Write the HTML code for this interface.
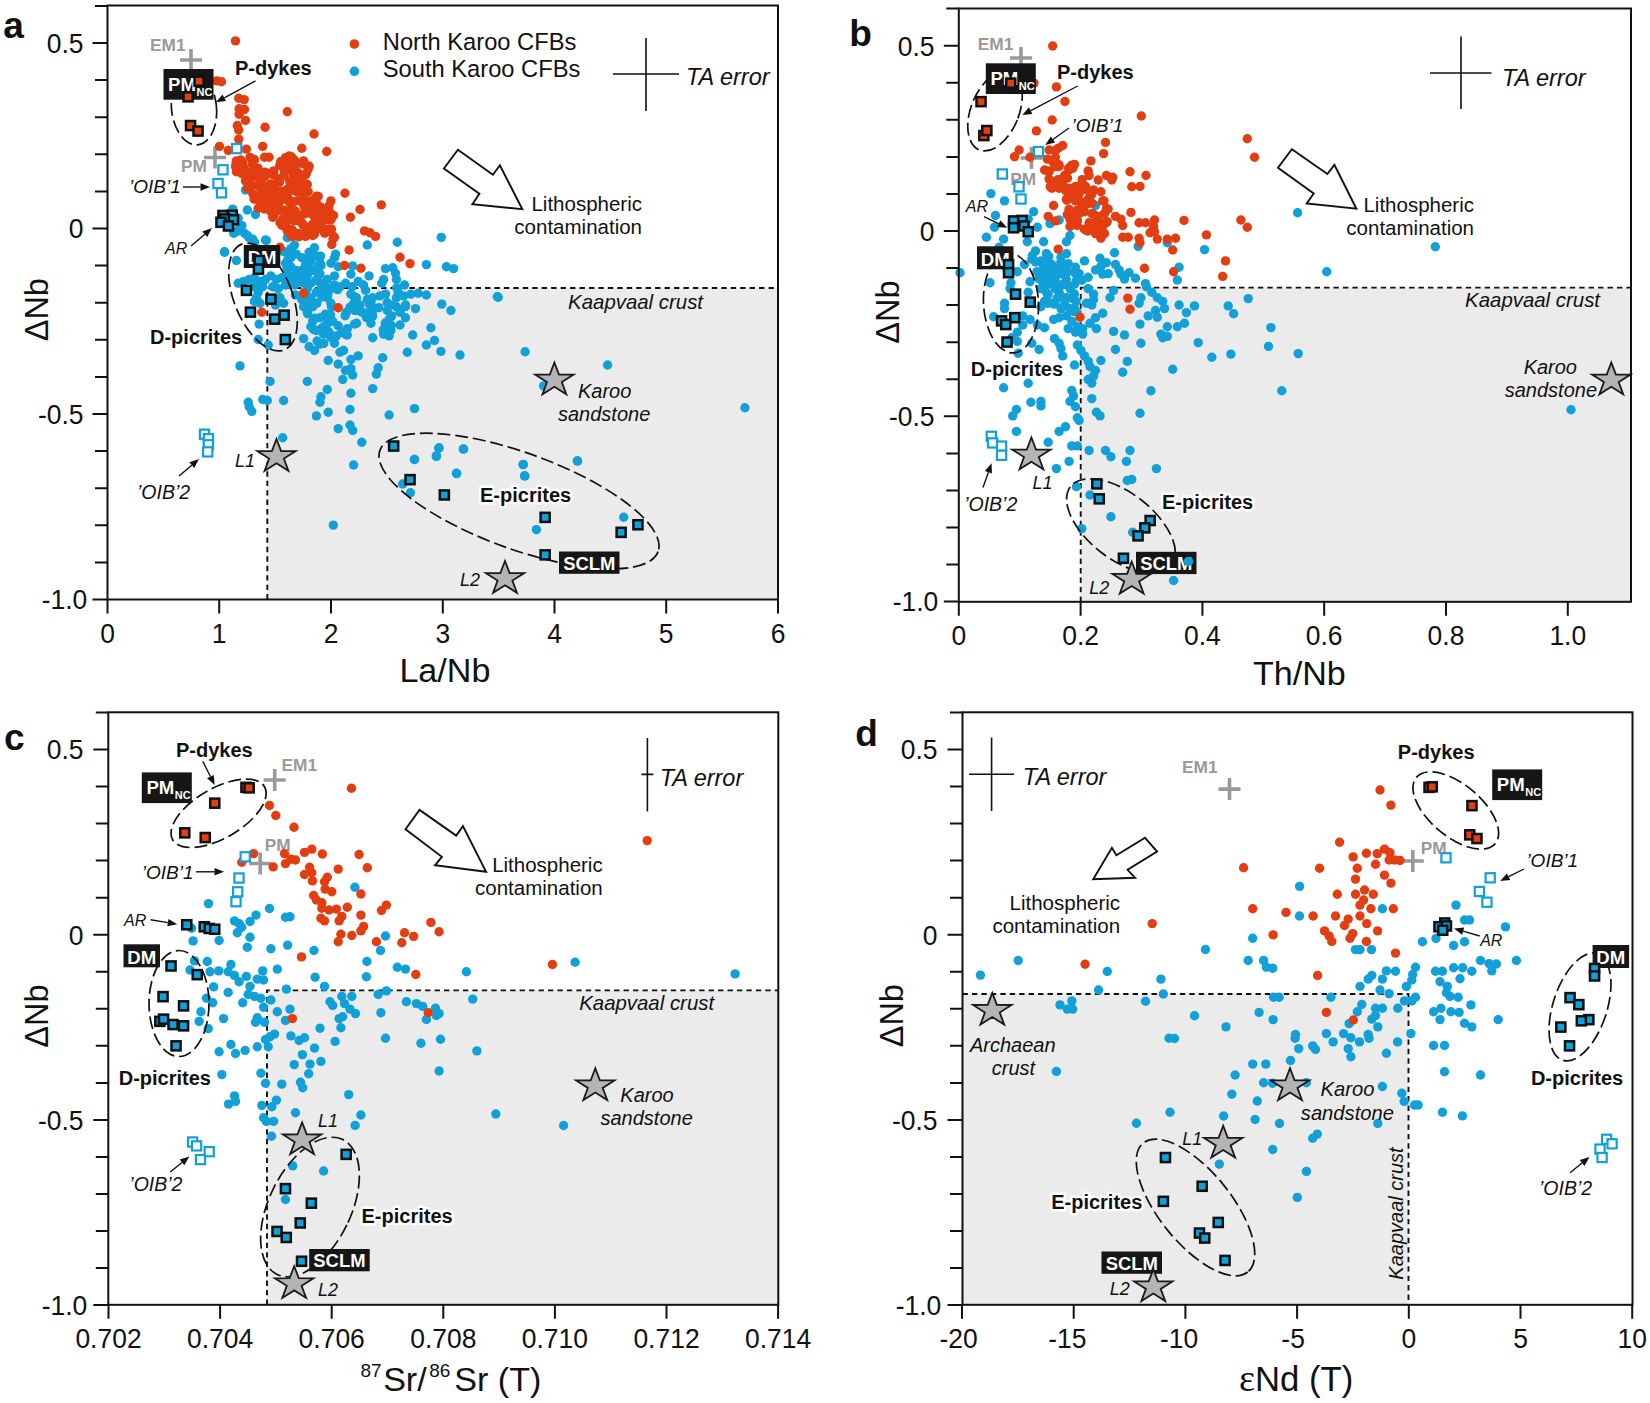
<!DOCTYPE html>
<html><head><meta charset="utf-8"><title>Figure</title>
<style>html,body{margin:0;padding:0;background:#fff}svg{display:block}text{font-family:"Liberation Sans",sans-serif}</style>
</head><body>
<svg width="1650" height="1403" viewBox="0 0 1650 1403">
<rect width="1650" height="1403" fill="#fff"/>
<rect x="267.3" y="288" width="510.7" height="311.5" fill="#ebebeb"/>
<path d="M267.3 599.5V288H778.0" stroke="#111" stroke-width="1.9" stroke-dasharray="5.4 4.05" fill="none"/>
<text x="150.0" y="51.0" font-size="17.3" text-anchor="start" font-weight="bold" font-style="normal" fill="#999" >EM1</text>
<path d="M180.0 60.0H202.0M191.0 49.0V71.0" stroke="#999" stroke-width="3.6" fill="none"/>
<text x="181.0" y="172.0" font-size="17.3" text-anchor="start" font-weight="bold" font-style="normal" fill="#999" >PM</text>
<path d="M204.0 157.5H226.0M215.0 146.5V168.5" stroke="#999" stroke-width="3.6" fill="none"/>
<g fill="#11a0d7">
<circle cx="283.9" cy="251.7" r="4.7"/>
<circle cx="293.1" cy="254.1" r="4.7"/>
<circle cx="308.7" cy="258.3" r="4.7"/>
<circle cx="320.5" cy="256.1" r="4.7"/>
<circle cx="286.9" cy="267.9" r="4.7"/>
<circle cx="287.3" cy="260.9" r="4.7"/>
<circle cx="308.3" cy="263.7" r="4.7"/>
<circle cx="320.1" cy="262.9" r="4.7"/>
<circle cx="321.1" cy="265.5" r="4.7"/>
<circle cx="294.3" cy="275.2" r="4.7"/>
<circle cx="305.1" cy="272.7" r="4.7"/>
<circle cx="317.2" cy="271.0" r="4.7"/>
<circle cx="290.0" cy="284.2" r="4.7"/>
<circle cx="302.4" cy="282.6" r="4.7"/>
<circle cx="319.9" cy="282.9" r="4.7"/>
<circle cx="326.6" cy="287.1" r="4.7"/>
<circle cx="352.3" cy="286.6" r="4.7"/>
<circle cx="295.4" cy="294.9" r="4.7"/>
<circle cx="306.6" cy="296.2" r="4.7"/>
<circle cx="321.4" cy="290.4" r="4.7"/>
<circle cx="327.7" cy="295.1" r="4.7"/>
<circle cx="337.6" cy="289.6" r="4.7"/>
<circle cx="354.0" cy="296.5" r="4.7"/>
<circle cx="365.6" cy="290.2" r="4.7"/>
<circle cx="396.7" cy="287.8" r="4.7"/>
<circle cx="309.1" cy="303.9" r="4.7"/>
<circle cx="316.9" cy="303.1" r="4.7"/>
<circle cx="321.9" cy="297.0" r="4.7"/>
<circle cx="331.5" cy="306.7" r="4.7"/>
<circle cx="350.0" cy="307.2" r="4.7"/>
<circle cx="353.6" cy="303.7" r="4.7"/>
<circle cx="369.6" cy="304.7" r="4.7"/>
<circle cx="378.8" cy="307.6" r="4.7"/>
<circle cx="387.1" cy="302.7" r="4.7"/>
<circle cx="405.4" cy="306.6" r="4.7"/>
<circle cx="307.7" cy="313.7" r="4.7"/>
<circle cx="324.7" cy="315.8" r="4.7"/>
<circle cx="330.4" cy="314.9" r="4.7"/>
<circle cx="346.3" cy="312.5" r="4.7"/>
<circle cx="354.7" cy="310.4" r="4.7"/>
<circle cx="365.2" cy="312.9" r="4.7"/>
<circle cx="370.7" cy="313.2" r="4.7"/>
<circle cx="391.7" cy="315.9" r="4.7"/>
<circle cx="399.8" cy="310.5" r="4.7"/>
<circle cx="314.6" cy="318.2" r="4.7"/>
<circle cx="328.0" cy="321.2" r="4.7"/>
<circle cx="338.1" cy="325.8" r="4.7"/>
<circle cx="345.1" cy="315.8" r="4.7"/>
<circle cx="356.6" cy="323.2" r="4.7"/>
<circle cx="366.5" cy="317.6" r="4.7"/>
<circle cx="385.3" cy="323.0" r="4.7"/>
<circle cx="391.2" cy="325.5" r="4.7"/>
<circle cx="313.5" cy="329.5" r="4.7"/>
<circle cx="321.2" cy="328.7" r="4.7"/>
<circle cx="327.3" cy="330.7" r="4.7"/>
<circle cx="346.0" cy="334.6" r="4.7"/>
<circle cx="383.2" cy="329.8" r="4.7"/>
<circle cx="317.1" cy="341.0" r="4.7"/>
<circle cx="323.7" cy="343.5" r="4.7"/>
<circle cx="331.5" cy="336.3" r="4.7"/>
<circle cx="347.3" cy="335.0" r="4.7"/>
<circle cx="325.5" cy="210.0" r="4.7"/>
<circle cx="245.5" cy="190.0" r="4.7"/>
<circle cx="232.7" cy="209.1" r="4.7"/>
<circle cx="247.3" cy="210.0" r="4.7"/>
<circle cx="255.5" cy="214.5" r="4.7"/>
<circle cx="238.2" cy="218.2" r="4.7"/>
<circle cx="241.8" cy="225.5" r="4.7"/>
<circle cx="236.4" cy="231.8" r="4.7"/>
<circle cx="247.3" cy="235.5" r="4.7"/>
<circle cx="252.7" cy="239.1" r="4.7"/>
<circle cx="265.5" cy="240.0" r="4.7"/>
<circle cx="224.5" cy="251.8" r="4.7"/>
<circle cx="233.6" cy="233.2" r="4.7"/>
<circle cx="239.1" cy="228.6" r="4.7"/>
<circle cx="244.5" cy="233.2" r="4.7"/>
<circle cx="249.1" cy="237.7" r="4.7"/>
<circle cx="254.5" cy="242.3" r="4.7"/>
<circle cx="266.4" cy="240.5" r="4.7"/>
<circle cx="224.5" cy="252.3" r="4.7"/>
<circle cx="236.4" cy="260.5" r="4.7"/>
<circle cx="287.3" cy="237.7" r="4.7"/>
<circle cx="294.5" cy="245.0" r="4.7"/>
<circle cx="290.9" cy="248.6" r="4.7"/>
<circle cx="367.3" cy="245.0" r="4.7"/>
<circle cx="397.3" cy="242.3" r="4.7"/>
<circle cx="441.3" cy="237.4" r="4.7"/>
<circle cx="426.4" cy="264.6" r="4.7"/>
<circle cx="446.4" cy="266.8" r="4.7"/>
<circle cx="453.6" cy="268.6" r="4.7"/>
<circle cx="285.5" cy="252.3" r="4.7"/>
<circle cx="290.9" cy="257.7" r="4.7"/>
<circle cx="296.4" cy="254.1" r="4.7"/>
<circle cx="301.8" cy="257.7" r="4.7"/>
<circle cx="309.1" cy="252.3" r="4.7"/>
<circle cx="314.5" cy="247.7" r="4.7"/>
<circle cx="316.4" cy="255.9" r="4.7"/>
<circle cx="310.9" cy="261.4" r="4.7"/>
<circle cx="305.5" cy="265.0" r="4.7"/>
<circle cx="301.8" cy="270.5" r="4.7"/>
<circle cx="296.4" cy="270.5" r="4.7"/>
<circle cx="290.9" cy="266.8" r="4.7"/>
<circle cx="285.5" cy="263.2" r="4.7"/>
<circle cx="287.3" cy="274.1" r="4.7"/>
<circle cx="281.8" cy="277.7" r="4.7"/>
<circle cx="276.4" cy="279.5" r="4.7"/>
<circle cx="270.9" cy="275.9" r="4.7"/>
<circle cx="265.5" cy="279.5" r="4.7"/>
<circle cx="260.0" cy="281.4" r="4.7"/>
<circle cx="254.5" cy="277.7" r="4.7"/>
<circle cx="249.1" cy="279.5" r="4.7"/>
<circle cx="243.6" cy="281.4" r="4.7"/>
<circle cx="238.2" cy="283.2" r="4.7"/>
<circle cx="254.5" cy="286.8" r="4.7"/>
<circle cx="258.2" cy="292.3" r="4.7"/>
<circle cx="256.4" cy="297.7" r="4.7"/>
<circle cx="254.5" cy="301.4" r="4.7"/>
<circle cx="260.0" cy="303.2" r="4.7"/>
<circle cx="262.7" cy="286.8" r="4.7"/>
<circle cx="272.7" cy="286.8" r="4.7"/>
<circle cx="278.2" cy="288.6" r="4.7"/>
<circle cx="280.0" cy="297.7" r="4.7"/>
<circle cx="283.6" cy="303.2" r="4.7"/>
<circle cx="275.5" cy="305.0" r="4.7"/>
<circle cx="285.5" cy="285.0" r="4.7"/>
<circle cx="290.9" cy="279.5" r="4.7"/>
<circle cx="294.5" cy="285.0" r="4.7"/>
<circle cx="298.2" cy="277.7" r="4.7"/>
<circle cx="301.8" cy="281.4" r="4.7"/>
<circle cx="307.3" cy="275.9" r="4.7"/>
<circle cx="312.7" cy="270.5" r="4.7"/>
<circle cx="318.2" cy="266.8" r="4.7"/>
<circle cx="320.0" cy="274.1" r="4.7"/>
<circle cx="316.4" cy="279.5" r="4.7"/>
<circle cx="310.9" cy="283.2" r="4.7"/>
<circle cx="307.3" cy="288.6" r="4.7"/>
<circle cx="301.8" cy="299.5" r="4.7"/>
<circle cx="303.6" cy="306.8" r="4.7"/>
<circle cx="307.3" cy="312.3" r="4.7"/>
<circle cx="312.7" cy="306.8" r="4.7"/>
<circle cx="310.9" cy="297.7" r="4.7"/>
<circle cx="316.4" cy="292.3" r="4.7"/>
<circle cx="321.8" cy="286.8" r="4.7"/>
<circle cx="327.3" cy="279.5" r="4.7"/>
<circle cx="334.5" cy="275.9" r="4.7"/>
<circle cx="334.5" cy="257.7" r="4.7"/>
<circle cx="335.5" cy="254.1" r="4.7"/>
<circle cx="330.9" cy="263.2" r="4.7"/>
<circle cx="338.2" cy="266.8" r="4.7"/>
<circle cx="352.7" cy="265.9" r="4.7"/>
<circle cx="350.9" cy="274.1" r="4.7"/>
<circle cx="345.5" cy="283.2" r="4.7"/>
<circle cx="340.0" cy="286.8" r="4.7"/>
<circle cx="334.5" cy="285.0" r="4.7"/>
<circle cx="329.1" cy="290.5" r="4.7"/>
<circle cx="327.3" cy="297.7" r="4.7"/>
<circle cx="330.9" cy="303.2" r="4.7"/>
<circle cx="325.5" cy="314.1" r="4.7"/>
<circle cx="320.0" cy="317.7" r="4.7"/>
<circle cx="312.7" cy="321.4" r="4.7"/>
<circle cx="310.9" cy="326.8" r="4.7"/>
<circle cx="316.4" cy="330.5" r="4.7"/>
<circle cx="323.6" cy="326.8" r="4.7"/>
<circle cx="327.3" cy="323.2" r="4.7"/>
<circle cx="332.7" cy="321.4" r="4.7"/>
<circle cx="329.1" cy="332.3" r="4.7"/>
<circle cx="323.6" cy="334.1" r="4.7"/>
<circle cx="330.9" cy="337.7" r="4.7"/>
<circle cx="334.5" cy="343.2" r="4.7"/>
<circle cx="340.0" cy="352.3" r="4.7"/>
<circle cx="343.6" cy="350.5" r="4.7"/>
<circle cx="336.4" cy="335.9" r="4.7"/>
<circle cx="341.8" cy="332.3" r="4.7"/>
<circle cx="347.3" cy="328.6" r="4.7"/>
<circle cx="354.5" cy="324.1" r="4.7"/>
<circle cx="350.9" cy="294.1" r="4.7"/>
<circle cx="356.4" cy="297.7" r="4.7"/>
<circle cx="360.0" cy="305.0" r="4.7"/>
<circle cx="356.4" cy="310.5" r="4.7"/>
<circle cx="361.8" cy="312.3" r="4.7"/>
<circle cx="367.3" cy="314.1" r="4.7"/>
<circle cx="372.7" cy="315.9" r="4.7"/>
<circle cx="370.9" cy="323.2" r="4.7"/>
<circle cx="374.5" cy="308.6" r="4.7"/>
<circle cx="370.9" cy="303.2" r="4.7"/>
<circle cx="367.3" cy="299.5" r="4.7"/>
<circle cx="372.7" cy="297.7" r="4.7"/>
<circle cx="380.0" cy="295.9" r="4.7"/>
<circle cx="385.5" cy="294.1" r="4.7"/>
<circle cx="363.6" cy="285.0" r="4.7"/>
<circle cx="358.2" cy="281.4" r="4.7"/>
<circle cx="369.1" cy="275.9" r="4.7"/>
<circle cx="381.8" cy="283.2" r="4.7"/>
<circle cx="383.6" cy="279.5" r="4.7"/>
<circle cx="385.5" cy="268.6" r="4.7"/>
<circle cx="392.7" cy="267.7" r="4.7"/>
<circle cx="395.5" cy="273.2" r="4.7"/>
<circle cx="396.4" cy="279.5" r="4.7"/>
<circle cx="404.5" cy="285.0" r="4.7"/>
<circle cx="398.2" cy="292.3" r="4.7"/>
<circle cx="396.4" cy="297.7" r="4.7"/>
<circle cx="403.6" cy="295.9" r="4.7"/>
<circle cx="410.9" cy="294.1" r="4.7"/>
<circle cx="418.2" cy="293.2" r="4.7"/>
<circle cx="426.4" cy="295.0" r="4.7"/>
<circle cx="405.5" cy="305.0" r="4.7"/>
<circle cx="396.4" cy="306.8" r="4.7"/>
<circle cx="390.9" cy="305.0" r="4.7"/>
<circle cx="387.3" cy="310.5" r="4.7"/>
<circle cx="400.0" cy="312.3" r="4.7"/>
<circle cx="405.5" cy="317.7" r="4.7"/>
<circle cx="389.1" cy="319.5" r="4.7"/>
<circle cx="385.5" cy="325.0" r="4.7"/>
<circle cx="400.0" cy="325.0" r="4.7"/>
<circle cx="390.9" cy="330.5" r="4.7"/>
<circle cx="383.6" cy="334.1" r="4.7"/>
<circle cx="389.1" cy="335.9" r="4.7"/>
<circle cx="372.7" cy="337.7" r="4.7"/>
<circle cx="415.5" cy="308.6" r="4.7"/>
<circle cx="441.8" cy="304.1" r="4.7"/>
<circle cx="450.9" cy="310.5" r="4.7"/>
<circle cx="497.3" cy="296.8" r="4.7"/>
<circle cx="430.9" cy="327.7" r="4.7"/>
<circle cx="412.7" cy="335.0" r="4.7"/>
<circle cx="434.5" cy="340.5" r="4.7"/>
<circle cx="426.4" cy="345.0" r="4.7"/>
<circle cx="407.3" cy="352.3" r="4.7"/>
<circle cx="440.9" cy="351.4" r="4.7"/>
<circle cx="460.0" cy="355.0" r="4.7"/>
<circle cx="382.7" cy="357.7" r="4.7"/>
<circle cx="358.2" cy="355.9" r="4.7"/>
<circle cx="350.9" cy="359.5" r="4.7"/>
<circle cx="328.2" cy="360.5" r="4.7"/>
<circle cx="338.2" cy="364.1" r="4.7"/>
<circle cx="350.9" cy="368.6" r="4.7"/>
<circle cx="345.5" cy="370.5" r="4.7"/>
<circle cx="352.7" cy="375.0" r="4.7"/>
<circle cx="342.7" cy="379.5" r="4.7"/>
<circle cx="378.2" cy="367.7" r="4.7"/>
<circle cx="376.4" cy="374.1" r="4.7"/>
<circle cx="372.7" cy="388.6" r="4.7"/>
<circle cx="307.3" cy="381.4" r="4.7"/>
<circle cx="327.3" cy="389.5" r="4.7"/>
<circle cx="350.9" cy="393.2" r="4.7"/>
<circle cx="320.9" cy="396.8" r="4.7"/>
<circle cx="320.0" cy="402.3" r="4.7"/>
<circle cx="350.0" cy="409.5" r="4.7"/>
<circle cx="328.2" cy="412.3" r="4.7"/>
<circle cx="316.4" cy="415.9" r="4.7"/>
<circle cx="389.1" cy="415.0" r="4.7"/>
<circle cx="414.5" cy="408.6" r="4.7"/>
<circle cx="338.2" cy="428.6" r="4.7"/>
<circle cx="350.0" cy="425.0" r="4.7"/>
<circle cx="352.7" cy="430.5" r="4.7"/>
<circle cx="361.8" cy="442.3" r="4.7"/>
<circle cx="353.6" cy="465.0" r="4.7"/>
<circle cx="414.5" cy="459.5" r="4.7"/>
<circle cx="436.4" cy="455.9" r="4.7"/>
<circle cx="439.1" cy="447.7" r="4.7"/>
<circle cx="463.6" cy="449.0" r="4.7"/>
<circle cx="456.4" cy="473.2" r="4.7"/>
<circle cx="259.1" cy="324.1" r="4.7"/>
<circle cx="258.2" cy="339.5" r="4.7"/>
<circle cx="268.2" cy="345.0" r="4.7"/>
<circle cx="303.6" cy="338.6" r="4.7"/>
<circle cx="309.1" cy="346.8" r="4.7"/>
<circle cx="314.5" cy="350.5" r="4.7"/>
<circle cx="320.0" cy="344.1" r="4.7"/>
<circle cx="240.0" cy="365.9" r="4.7"/>
<circle cx="270.0" cy="381.4" r="4.7"/>
<circle cx="262.7" cy="399.5" r="4.7"/>
<circle cx="267.3" cy="400.5" r="4.7"/>
<circle cx="283.6" cy="400.5" r="4.7"/>
<circle cx="248.2" cy="402.3" r="4.7"/>
<circle cx="249.1" cy="406.8" r="4.7"/>
<circle cx="251.8" cy="411.4" r="4.7"/>
<circle cx="282.7" cy="437.7" r="4.7"/>
<circle cx="498.2" cy="297.2" r="4.7"/>
<circle cx="525.1" cy="351.7" r="4.7"/>
<circle cx="607.6" cy="365.0" r="4.7"/>
<circle cx="543.6" cy="385.9" r="4.7"/>
<circle cx="744.9" cy="407.7" r="4.7"/>
<circle cx="523.1" cy="464.6" r="4.7"/>
<circle cx="577.6" cy="461.0" r="4.7"/>
<circle cx="524.5" cy="475.9" r="4.7"/>
<circle cx="414.5" cy="459.5" r="4.7"/>
<circle cx="456.7" cy="473.6" r="4.7"/>
<circle cx="402.7" cy="484.0" r="4.7"/>
<circle cx="410.4" cy="492.7" r="4.7"/>
<circle cx="523.3" cy="464.5" r="4.7"/>
<circle cx="524.9" cy="476.0" r="4.7"/>
<circle cx="577.3" cy="460.9" r="4.7"/>
<circle cx="333.3" cy="525.1" r="4.7"/>
<circle cx="536.4" cy="529.6" r="4.7"/>
<circle cx="438.7" cy="448.2" r="4.7"/>
<circle cx="436.4" cy="456.4" r="4.7"/>
<circle cx="463.3" cy="449.1" r="4.7"/>
<circle cx="623.7" cy="517.3" r="4.7"/>
</g>
<g fill="#e23e12">
<circle cx="235.5" cy="40.9" r="4.7"/>
<circle cx="216.7" cy="80.9" r="4.7"/>
<circle cx="221.5" cy="81.8" r="4.7"/>
<circle cx="238.7" cy="98.2" r="4.7"/>
<circle cx="244.2" cy="99.6" r="4.7"/>
<circle cx="239.1" cy="108.7" r="4.7"/>
<circle cx="244.5" cy="109.5" r="4.7"/>
<circle cx="239.1" cy="114.2" r="4.7"/>
<circle cx="245.5" cy="120.4" r="4.7"/>
<circle cx="237.3" cy="125.5" r="4.7"/>
<circle cx="238.7" cy="130.0" r="4.7"/>
<circle cx="287.3" cy="111.8" r="4.7"/>
<circle cx="265.1" cy="127.3" r="4.7"/>
<circle cx="314.0" cy="134.0" r="4.7"/>
<circle cx="238.7" cy="139.1" r="4.7"/>
<circle cx="262.7" cy="146.4" r="4.7"/>
<circle cx="301.8" cy="148.2" r="4.7"/>
<circle cx="326.7" cy="151.5" r="4.7"/>
<circle cx="219.5" cy="146.4" r="4.7"/>
<circle cx="228.2" cy="150.4" r="4.7"/>
<circle cx="246.4" cy="149.1" r="4.7"/>
<circle cx="289.1" cy="156.0" r="4.7"/>
<circle cx="264.5" cy="157.3" r="4.7"/>
<circle cx="269.1" cy="157.3" r="4.7"/>
<circle cx="236.4" cy="160.9" r="4.7"/>
<circle cx="240.9" cy="160.0" r="4.7"/>
<circle cx="254.5" cy="160.0" r="4.7"/>
<circle cx="285.5" cy="160.9" r="4.7"/>
<circle cx="294.5" cy="160.0" r="4.7"/>
<circle cx="303.6" cy="160.9" r="4.7"/>
<circle cx="309.1" cy="166.4" r="4.7"/>
<circle cx="306.4" cy="173.6" r="4.7"/>
<circle cx="301.8" cy="177.3" r="4.7"/>
<circle cx="307.3" cy="184.5" r="4.7"/>
<circle cx="308.2" cy="191.8" r="4.7"/>
<circle cx="318.2" cy="196.4" r="4.7"/>
<circle cx="316.4" cy="202.7" r="4.7"/>
<circle cx="330.9" cy="200.9" r="4.7"/>
<circle cx="333.6" cy="215.5" r="4.7"/>
<circle cx="329.1" cy="220.0" r="4.7"/>
<circle cx="334.5" cy="237.3" r="4.7"/>
<circle cx="331.8" cy="244.5" r="4.7"/>
<circle cx="325.5" cy="230.0" r="4.7"/>
<circle cx="312.7" cy="235.5" r="4.7"/>
<circle cx="305.5" cy="236.4" r="4.7"/>
<circle cx="292.7" cy="236.4" r="4.7"/>
<circle cx="287.3" cy="228.2" r="4.7"/>
<circle cx="280.0" cy="222.7" r="4.7"/>
<circle cx="272.7" cy="217.3" r="4.7"/>
<circle cx="258.2" cy="208.2" r="4.7"/>
<circle cx="260.0" cy="202.7" r="4.7"/>
<circle cx="252.7" cy="193.6" r="4.7"/>
<circle cx="247.3" cy="188.2" r="4.7"/>
<circle cx="245.5" cy="180.9" r="4.7"/>
<circle cx="241.8" cy="173.6" r="4.7"/>
<circle cx="236.4" cy="171.8" r="4.7"/>
<circle cx="235.5" cy="166.4" r="4.7"/>
<circle cx="344.9" cy="193.3" r="4.7"/>
<circle cx="381.3" cy="204.9" r="4.7"/>
<circle cx="360.0" cy="209.5" r="4.7"/>
<circle cx="350.4" cy="217.3" r="4.7"/>
<circle cx="364.5" cy="230.9" r="4.7"/>
<circle cx="370.0" cy="232.7" r="4.7"/>
<circle cx="375.5" cy="236.4" r="4.7"/>
<circle cx="349.1" cy="250.0" r="4.7"/>
<circle cx="400.0" cy="257.3" r="4.7"/>
<circle cx="410.0" cy="263.6" r="4.7"/>
<circle cx="344.5" cy="265.5" r="4.7"/>
<circle cx="360.9" cy="268.2" r="4.7"/>
<circle cx="280.0" cy="247.3" r="4.7"/>
<circle cx="250.0" cy="157.4" r="4.7"/>
<circle cx="285.6" cy="157.6" r="4.7"/>
<circle cx="291.4" cy="156.8" r="4.7"/>
<circle cx="236.2" cy="162.7" r="4.7"/>
<circle cx="242.9" cy="163.5" r="4.7"/>
<circle cx="251.8" cy="158.7" r="4.7"/>
<circle cx="253.9" cy="159.4" r="4.7"/>
<circle cx="280.8" cy="161.5" r="4.7"/>
<circle cx="288.5" cy="163.3" r="4.7"/>
<circle cx="295.5" cy="163.5" r="4.7"/>
<circle cx="302.9" cy="163.8" r="4.7"/>
<circle cx="242.1" cy="169.4" r="4.7"/>
<circle cx="244.1" cy="168.3" r="4.7"/>
<circle cx="252.3" cy="164.5" r="4.7"/>
<circle cx="258.0" cy="168.1" r="4.7"/>
<circle cx="279.7" cy="165.6" r="4.7"/>
<circle cx="287.0" cy="169.3" r="4.7"/>
<circle cx="291.3" cy="169.4" r="4.7"/>
<circle cx="296.5" cy="164.1" r="4.7"/>
<circle cx="304.6" cy="163.8" r="4.7"/>
<circle cx="308.7" cy="166.0" r="4.7"/>
<circle cx="239.1" cy="171.4" r="4.7"/>
<circle cx="243.0" cy="172.2" r="4.7"/>
<circle cx="250.5" cy="172.6" r="4.7"/>
<circle cx="256.4" cy="172.8" r="4.7"/>
<circle cx="265.0" cy="172.1" r="4.7"/>
<circle cx="268.4" cy="173.4" r="4.7"/>
<circle cx="273.7" cy="170.9" r="4.7"/>
<circle cx="284.4" cy="172.2" r="4.7"/>
<circle cx="288.3" cy="169.3" r="4.7"/>
<circle cx="293.9" cy="172.5" r="4.7"/>
<circle cx="298.1" cy="172.7" r="4.7"/>
<circle cx="308.0" cy="169.5" r="4.7"/>
<circle cx="247.0" cy="176.6" r="4.7"/>
<circle cx="252.1" cy="176.5" r="4.7"/>
<circle cx="258.5" cy="178.2" r="4.7"/>
<circle cx="264.5" cy="176.9" r="4.7"/>
<circle cx="273.6" cy="174.9" r="4.7"/>
<circle cx="278.8" cy="179.0" r="4.7"/>
<circle cx="283.7" cy="176.0" r="4.7"/>
<circle cx="293.0" cy="176.1" r="4.7"/>
<circle cx="295.8" cy="177.3" r="4.7"/>
<circle cx="305.2" cy="175.3" r="4.7"/>
<circle cx="249.8" cy="181.4" r="4.7"/>
<circle cx="257.8" cy="185.1" r="4.7"/>
<circle cx="260.6" cy="181.9" r="4.7"/>
<circle cx="270.6" cy="184.0" r="4.7"/>
<circle cx="277.0" cy="182.3" r="4.7"/>
<circle cx="279.5" cy="182.0" r="4.7"/>
<circle cx="289.7" cy="181.8" r="4.7"/>
<circle cx="293.6" cy="182.7" r="4.7"/>
<circle cx="300.4" cy="182.6" r="4.7"/>
<circle cx="251.3" cy="186.2" r="4.7"/>
<circle cx="259.7" cy="187.5" r="4.7"/>
<circle cx="267.4" cy="186.1" r="4.7"/>
<circle cx="274.4" cy="189.8" r="4.7"/>
<circle cx="280.9" cy="191.0" r="4.7"/>
<circle cx="287.1" cy="189.2" r="4.7"/>
<circle cx="288.4" cy="190.1" r="4.7"/>
<circle cx="295.7" cy="187.6" r="4.7"/>
<circle cx="305.0" cy="188.9" r="4.7"/>
<circle cx="258.5" cy="196.0" r="4.7"/>
<circle cx="264.3" cy="191.4" r="4.7"/>
<circle cx="269.6" cy="196.3" r="4.7"/>
<circle cx="272.6" cy="192.9" r="4.7"/>
<circle cx="280.3" cy="194.4" r="4.7"/>
<circle cx="287.6" cy="194.1" r="4.7"/>
<circle cx="296.0" cy="191.4" r="4.7"/>
<circle cx="298.3" cy="192.1" r="4.7"/>
<circle cx="305.1" cy="191.8" r="4.7"/>
<circle cx="316.4" cy="196.3" r="4.7"/>
<circle cx="254.1" cy="199.1" r="4.7"/>
<circle cx="256.8" cy="197.9" r="4.7"/>
<circle cx="264.9" cy="200.4" r="4.7"/>
<circle cx="273.7" cy="199.1" r="4.7"/>
<circle cx="280.2" cy="200.5" r="4.7"/>
<circle cx="284.4" cy="199.1" r="4.7"/>
<circle cx="291.2" cy="201.0" r="4.7"/>
<circle cx="297.2" cy="200.9" r="4.7"/>
<circle cx="303.8" cy="198.3" r="4.7"/>
<circle cx="310.6" cy="200.9" r="4.7"/>
<circle cx="314.4" cy="199.4" r="4.7"/>
<circle cx="264.1" cy="206.3" r="4.7"/>
<circle cx="270.2" cy="205.7" r="4.7"/>
<circle cx="273.0" cy="205.8" r="4.7"/>
<circle cx="278.8" cy="203.3" r="4.7"/>
<circle cx="289.6" cy="202.7" r="4.7"/>
<circle cx="292.1" cy="203.0" r="4.7"/>
<circle cx="303.0" cy="203.5" r="4.7"/>
<circle cx="304.5" cy="207.3" r="4.7"/>
<circle cx="311.5" cy="207.3" r="4.7"/>
<circle cx="321.0" cy="207.3" r="4.7"/>
<circle cx="329.0" cy="205.8" r="4.7"/>
<circle cx="264.2" cy="209.0" r="4.7"/>
<circle cx="270.6" cy="211.5" r="4.7"/>
<circle cx="279.9" cy="210.3" r="4.7"/>
<circle cx="284.1" cy="210.3" r="4.7"/>
<circle cx="290.4" cy="210.4" r="4.7"/>
<circle cx="295.2" cy="210.9" r="4.7"/>
<circle cx="306.8" cy="210.4" r="4.7"/>
<circle cx="311.9" cy="208.9" r="4.7"/>
<circle cx="317.9" cy="212.4" r="4.7"/>
<circle cx="324.2" cy="211.0" r="4.7"/>
<circle cx="329.5" cy="211.7" r="4.7"/>
<circle cx="274.2" cy="214.9" r="4.7"/>
<circle cx="282.7" cy="219.0" r="4.7"/>
<circle cx="286.9" cy="217.6" r="4.7"/>
<circle cx="293.9" cy="218.5" r="4.7"/>
<circle cx="301.3" cy="215.1" r="4.7"/>
<circle cx="305.6" cy="213.7" r="4.7"/>
<circle cx="313.5" cy="215.7" r="4.7"/>
<circle cx="318.1" cy="215.6" r="4.7"/>
<circle cx="325.4" cy="218.0" r="4.7"/>
<circle cx="330.8" cy="219.3" r="4.7"/>
<circle cx="285.8" cy="224.6" r="4.7"/>
<circle cx="293.3" cy="220.5" r="4.7"/>
<circle cx="295.8" cy="220.6" r="4.7"/>
<circle cx="302.2" cy="223.1" r="4.7"/>
<circle cx="312.5" cy="224.3" r="4.7"/>
<circle cx="315.4" cy="224.1" r="4.7"/>
<circle cx="322.2" cy="221.5" r="4.7"/>
<circle cx="331.0" cy="219.6" r="4.7"/>
<circle cx="281.9" cy="225.3" r="4.7"/>
<circle cx="286.7" cy="228.5" r="4.7"/>
<circle cx="292.2" cy="229.7" r="4.7"/>
<circle cx="303.2" cy="225.2" r="4.7"/>
<circle cx="309.8" cy="226.8" r="4.7"/>
<circle cx="315.2" cy="229.0" r="4.7"/>
<circle cx="318.9" cy="228.5" r="4.7"/>
<circle cx="327.3" cy="229.3" r="4.7"/>
<circle cx="331.5" cy="229.0" r="4.7"/>
<circle cx="287.3" cy="231.0" r="4.7"/>
<circle cx="290.3" cy="234.3" r="4.7"/>
<circle cx="298.2" cy="233.4" r="4.7"/>
<circle cx="304.9" cy="232.8" r="4.7"/>
<circle cx="309.4" cy="231.2" r="4.7"/>
<circle cx="314.4" cy="234.3" r="4.7"/>
<circle cx="324.7" cy="233.3" r="4.7"/>
<circle cx="331.0" cy="232.2" r="4.7"/>
<circle cx="299.0" cy="236.8" r="4.7"/>
<circle cx="333.0" cy="239.0" r="4.7"/>
<circle cx="303.6" cy="293.2" r="4.7"/>
<circle cx="338.2" cy="307.7" r="4.7"/>
<circle cx="261.8" cy="312.3" r="4.7"/>
</g>
<g fill="#e23e12">
<circle cx="354.4" cy="44.0" r="4.8"/>
</g>
<g fill="#11a0d7">
<circle cx="354.4" cy="71.3" r="4.8"/>
</g>
<text x="382.8" y="49.8" font-size="23.7" text-anchor="start" font-weight="normal" font-style="normal" fill="#111" >North Karoo CFBs</text>
<text x="382.8" y="77.2" font-size="23.7" text-anchor="start" font-weight="normal" font-style="normal" fill="#111" >South Karoo CFBs</text>
<path d="M646 38V111M613 74H679" stroke="#111" stroke-width="1.6" fill="none"/>
<text x="686.0" y="85.0" font-size="23.5" text-anchor="start" font-weight="normal" font-style="italic" fill="#111" >TA error</text>
<polygon points="457.9,149.8 492.9,174.8 499.9,165.3 522.3,209.2 472.4,204.2 479.4,193.8 443.9,168.5" fill="#fff" stroke="#111" stroke-width="1.9"/>
<text x="642.0" y="211.0" font-size="20.5" text-anchor="end" font-weight="normal" font-style="normal" fill="#111" >Lithospheric</text>
<text x="642.0" y="234.0" font-size="20.5" text-anchor="end" font-weight="normal" font-style="normal" fill="#111" >contamination</text>
<text x="703.0" y="308.6" font-size="20.4" text-anchor="end" font-weight="normal" font-style="italic" fill="#111" >Kaapvaal crust</text>
<ellipse cx="194.0" cy="108.0" rx="22.5" ry="37.0" transform="rotate(-6.0 194.0 108.0)" fill="none" stroke="#111" stroke-width="1.7" stroke-dasharray="13 4.8"/>
<ellipse cx="263.0" cy="297.0" rx="29.0" ry="57.0" transform="rotate(-22.0 263.0 297.0)" fill="none" stroke="#111" stroke-width="1.7" stroke-dasharray="13 4.8"/>
<ellipse cx="519.0" cy="501.0" rx="148.0" ry="48.0" transform="rotate(20.0 519.0 501.0)" fill="none" stroke="#111" stroke-width="1.7" stroke-dasharray="13 4.8"/>
<rect x="163.5" y="69.0" width="50.0" height="30.7" fill="#161616"/>
<text x="168.1" y="90.5" font-size="18.6" font-weight="bold" fill="#fff">PM<tspan font-size="11" dy="5" dx="0.5">NC</tspan></text>
<rect x="243.8" y="245.0" width="36.5" height="23.0" fill="#161616"/>
<text x="262.1" y="264.4" font-size="18.6" text-anchor="middle" font-weight="bold" font-style="normal" fill="#fff" >DM</text>
<rect x="559.0" y="551.5" width="60.5" height="22.3" fill="#161616"/>
<text x="589.2" y="569.5" font-size="18.4" text-anchor="middle" font-weight="bold" font-style="normal" fill="#fff" >SCLM</text>
<text x="235.0" y="75.0" font-size="20.0" text-anchor="start" font-weight="bold" font-style="normal" fill="#111" >P-dykes</text>
<line x1="255.5" y1="80.9" x2="224.3" y2="97.8" stroke="#111" stroke-width="1.4"/>
<polygon points="215.9,102.3 222.5,94.5 226.0,101.0" fill="#111"/>
<text x="129.0" y="193.0" font-size="19.0" text-anchor="start" font-weight="normal" font-style="italic" fill="#111" >’OIB’1</text>
<line x1="183.0" y1="187.0" x2="200.5" y2="187.0" stroke="#111" stroke-width="1.4"/>
<polygon points="210.0,187.0 200.5,190.7 200.5,183.3" fill="#111"/>
<text x="165.0" y="254.0" font-size="16.0" text-anchor="start" font-weight="normal" font-style="italic" fill="#111" >AR</text>
<line x1="191.0" y1="246.0" x2="204.8" y2="234.2" stroke="#111" stroke-width="1.4"/>
<polygon points="212.0,228.0 207.2,237.0 202.4,231.4" fill="#111"/>
<text x="150.0" y="344.0" font-size="20.0" text-anchor="start" font-weight="bold" font-style="normal" fill="#111" >D-picrites</text>
<text x="480.0" y="502.0" font-size="20.0" text-anchor="start" font-weight="bold" font-style="normal" fill="#111" stroke="#fff" stroke-width="5" paint-order="stroke" stroke-linejoin="round">E-picrites</text>
<text x="578.0" y="397.8" font-size="20.0" text-anchor="start" font-weight="normal" font-style="italic" fill="#111" >Karoo</text>
<text x="558.0" y="421.3" font-size="20.0" text-anchor="start" font-weight="normal" font-style="italic" fill="#111" >sandstone</text>
<text x="235.0" y="466.8" font-size="18.0" text-anchor="start" font-weight="normal" font-style="italic" fill="#111" >L1</text>
<text x="460.0" y="586.0" font-size="18.0" text-anchor="start" font-weight="normal" font-style="italic" fill="#111" >L2</text>
<text x="137.0" y="499.3" font-size="19.5" text-anchor="start" font-weight="normal" font-style="italic" fill="#111" >’OIB’2</text>
<line x1="179.0" y1="476.0" x2="191.8" y2="465.2" stroke="#111" stroke-width="1.4"/>
<polygon points="199.0,459.0 194.2,468.0 189.4,462.3" fill="#111"/>
<polygon points="276.5,439.0 281.1,451.0 295.7,451.1 283.9,458.6 288.4,470.7 276.5,463.2 264.6,470.7 269.1,458.6 257.3,451.1 271.9,451.0" fill="#b4b4b4" stroke="#1a1a1a" stroke-width="1.8" stroke-linejoin="miter"/>
<polygon points="554.4,362.5 559.0,374.5 573.6,374.6 561.8,382.1 566.3,394.2 554.4,386.7 542.5,394.2 547.0,382.1 535.2,374.6 549.8,374.5" fill="#b4b4b4" stroke="#1a1a1a" stroke-width="1.8" stroke-linejoin="miter"/>
<polygon points="505.0,561.0 509.6,573.0 524.2,573.1 512.4,580.6 516.9,592.7 505.0,585.2 493.1,592.7 497.6,580.6 485.8,573.1 500.4,573.0" fill="#b4b4b4" stroke="#1a1a1a" stroke-width="1.8" stroke-linejoin="miter"/>
<rect x="194.5" y="76.6" width="9.1" height="9.1" fill="#e23e12" stroke="#111" stroke-width="2.5"/>
<rect x="183.5" y="92.3" width="9.1" height="9.1" fill="#e23e12" stroke="#111" stroke-width="2.5"/>
<rect x="186.0" y="121.0" width="9.1" height="9.1" fill="#e23e12" stroke="#111" stroke-width="2.5"/>
<rect x="193.5" y="126.5" width="9.1" height="9.1" fill="#e23e12" stroke="#111" stroke-width="2.5"/>
<rect x="227.7" y="210.7" width="9.1" height="9.1" fill="#11a0d7" stroke="#111" stroke-width="2.5"/>
<rect x="218.4" y="210.9" width="9.1" height="9.1" fill="#11a0d7" stroke="#111" stroke-width="2.5"/>
<rect x="220.2" y="214.4" width="9.1" height="9.1" fill="#11a0d7" stroke="#111" stroke-width="2.5"/>
<rect x="228.9" y="215.2" width="9.1" height="9.1" fill="#11a0d7" stroke="#111" stroke-width="2.5"/>
<rect x="216.4" y="217.7" width="9.1" height="9.1" fill="#11a0d7" stroke="#111" stroke-width="2.5"/>
<rect x="223.9" y="221.4" width="9.1" height="9.1" fill="#11a0d7" stroke="#111" stroke-width="2.5"/>
<rect x="254.6" y="255.9" width="9.1" height="9.1" fill="#11a0d7" stroke="#111" stroke-width="2.5"/>
<rect x="253.9" y="264.6" width="9.1" height="9.1" fill="#11a0d7" stroke="#111" stroke-width="2.5"/>
<rect x="241.9" y="285.8" width="9.1" height="9.1" fill="#11a0d7" stroke="#111" stroke-width="2.5"/>
<rect x="266.4" y="294.6" width="9.1" height="9.1" fill="#11a0d7" stroke="#111" stroke-width="2.5"/>
<rect x="245.9" y="307.6" width="9.1" height="9.1" fill="#11a0d7" stroke="#111" stroke-width="2.5"/>
<rect x="279.6" y="310.6" width="9.1" height="9.1" fill="#11a0d7" stroke="#111" stroke-width="2.5"/>
<rect x="270.1" y="314.6" width="9.1" height="9.1" fill="#11a0d7" stroke="#111" stroke-width="2.5"/>
<rect x="280.8" y="335.0" width="9.1" height="9.1" fill="#11a0d7" stroke="#111" stroke-width="2.5"/>
<rect x="389.1" y="441.5" width="9.1" height="9.1" fill="#11a0d7" stroke="#111" stroke-width="2.5"/>
<rect x="405.5" y="475.1" width="9.1" height="9.1" fill="#11a0d7" stroke="#111" stroke-width="2.5"/>
<rect x="439.8" y="490.4" width="9.1" height="9.1" fill="#11a0d7" stroke="#111" stroke-width="2.5"/>
<rect x="540.6" y="512.8" width="9.1" height="9.1" fill="#11a0d7" stroke="#111" stroke-width="2.5"/>
<rect x="540.6" y="550.3" width="9.1" height="9.1" fill="#11a0d7" stroke="#111" stroke-width="2.5"/>
<rect x="616.6" y="527.8" width="9.1" height="9.1" fill="#11a0d7" stroke="#111" stroke-width="2.5"/>
<rect x="633.4" y="520.2" width="9.1" height="9.1" fill="#11a0d7" stroke="#111" stroke-width="2.5"/>
<rect x="232.1" y="144.0" width="9.2" height="9.2" fill="#fff" stroke="#11a0d7" stroke-width="2.2"/>
<rect x="218.4" y="165.2" width="9.2" height="9.2" fill="#fff" stroke="#11a0d7" stroke-width="2.2"/>
<rect x="213.4" y="178.9" width="9.2" height="9.2" fill="#fff" stroke="#11a0d7" stroke-width="2.2"/>
<rect x="216.9" y="188.2" width="9.2" height="9.2" fill="#fff" stroke="#11a0d7" stroke-width="2.2"/>
<rect x="199.9" y="429.6" width="9.2" height="9.2" fill="#fff" stroke="#11a0d7" stroke-width="2.2"/>
<rect x="203.8" y="434.1" width="9.2" height="9.2" fill="#fff" stroke="#11a0d7" stroke-width="2.2"/>
<rect x="203.8" y="440.2" width="9.2" height="9.2" fill="#fff" stroke="#11a0d7" stroke-width="2.2"/>
<rect x="203.1" y="447.3" width="9.2" height="9.2" fill="#fff" stroke="#11a0d7" stroke-width="2.2"/>
<path d="M92.5 43.0H107.5M92.5 228.5H107.5M92.5 414.0H107.5M92.5 599.5H107.5M95.0 5.9H107.5M95.0 80.1H107.5M95.0 117.2H107.5M95.0 154.3H107.5M95.0 191.4H107.5M95.0 265.6H107.5M95.0 302.7H107.5M95.0 339.8H107.5M95.0 376.9H107.5M95.0 451.1H107.5M95.0 488.2H107.5M95.0 525.3H107.5M95.0 562.4H107.5M107.5 599.5V613.5M219.2 599.5V613.5M331.0 599.5V613.5M442.8 599.5V613.5M554.5 599.5V613.5M666.2 599.5V613.5M778.0 599.5V613.5" stroke="#111" stroke-width="2" fill="none"/>
<rect x="107.5" y="5.5" width="670.5" height="594.0" fill="none" stroke="#111" stroke-width="2"/>
<text transform="translate(107.5 642.5) scale(0.955 1)" font-size="27.7" text-anchor="middle" fill="#111">0</text>
<text transform="translate(219.2 642.5) scale(0.955 1)" font-size="27.7" text-anchor="middle" fill="#111">1</text>
<text transform="translate(331.0 642.5) scale(0.955 1)" font-size="27.7" text-anchor="middle" fill="#111">2</text>
<text transform="translate(442.8 642.5) scale(0.955 1)" font-size="27.7" text-anchor="middle" fill="#111">3</text>
<text transform="translate(554.5 642.5) scale(0.955 1)" font-size="27.7" text-anchor="middle" fill="#111">4</text>
<text transform="translate(666.2 642.5) scale(0.955 1)" font-size="27.7" text-anchor="middle" fill="#111">5</text>
<text transform="translate(778.0 642.5) scale(0.955 1)" font-size="27.7" text-anchor="middle" fill="#111">6</text>
<text transform="translate(83.5 52.8) scale(0.955 1)" font-size="27.7" text-anchor="end" fill="#111">0.5</text>
<text transform="translate(83.5 238.3) scale(0.955 1)" font-size="27.7" text-anchor="end" fill="#111">0</text>
<text transform="translate(83.5 423.8) scale(0.955 1)" font-size="27.7" text-anchor="end" fill="#111">-0.5</text>
<text transform="translate(87.3 609.3) scale(0.955 1)" font-size="27.7" text-anchor="end" fill="#111">-1.0</text>
<text x="444.9" y="682.2" font-size="34.1" text-anchor="middle" font-weight="normal" font-style="normal" fill="#111" >La/Nb</text>
<text transform="translate(47.8 309.7) rotate(-90)" font-size="32.5" text-anchor="middle" fill="#111">ΔNb</text>
<text x="3.2" y="38.2" font-size="37.0" text-anchor="start" font-weight="bold" font-style="normal" fill="#111" >a</text>
<rect x="1080.7" y="287.6" width="550.3" height="314.2" fill="#ebebeb"/>
<path d="M1080.7 601.8V287.6H1631.0" stroke="#111" stroke-width="1.9" stroke-dasharray="5.4 4.05" fill="none"/>
<text x="977.8" y="49.5" font-size="17.3" text-anchor="start" font-weight="bold" font-style="normal" fill="#999" >EM1</text>
<path d="M1010.0 58.0H1032.0M1021.0 47.0V69.0" stroke="#999" stroke-width="3.6" fill="none"/>
<path d="M1020.5 158.0H1042.5M1031.5 147.0V169.0" stroke="#999" stroke-width="3.6" fill="none"/>
<text x="1010.3" y="184.8" font-size="17.3" text-anchor="start" font-weight="bold" font-style="normal" fill="#999" >PM</text>
<g fill="#11a0d7">
<circle cx="990.9" cy="193.6" r="4.7"/>
<circle cx="1004.5" cy="200.9" r="4.7"/>
<circle cx="1033.6" cy="211.8" r="4.7"/>
<circle cx="995.5" cy="215.5" r="4.7"/>
<circle cx="1028.2" cy="219.1" r="4.7"/>
<circle cx="1037.3" cy="227.3" r="4.7"/>
<circle cx="994.5" cy="227.3" r="4.7"/>
<circle cx="1050.0" cy="223.6" r="4.7"/>
<circle cx="1059.1" cy="220.0" r="4.7"/>
<circle cx="986.4" cy="237.3" r="4.7"/>
<circle cx="1003.6" cy="239.1" r="4.7"/>
<circle cx="1027.3" cy="241.8" r="4.7"/>
<circle cx="1043.6" cy="241.8" r="4.7"/>
<circle cx="1070.0" cy="235.5" r="4.7"/>
<circle cx="1066.4" cy="241.8" r="4.7"/>
<circle cx="999.1" cy="247.3" r="4.7"/>
<circle cx="1035.5" cy="250.9" r="4.7"/>
<circle cx="1046.4" cy="253.6" r="4.7"/>
<circle cx="1060.9" cy="257.3" r="4.7"/>
<circle cx="1066.4" cy="253.6" r="4.7"/>
<circle cx="1114.5" cy="252.7" r="4.7"/>
<circle cx="1138.2" cy="246.4" r="4.7"/>
<circle cx="1167.3" cy="242.7" r="4.7"/>
<circle cx="1204.5" cy="249.6" r="4.7"/>
<circle cx="1100.0" cy="258.2" r="4.7"/>
<circle cx="1084.5" cy="260.9" r="4.7"/>
<circle cx="1106.4" cy="262.7" r="4.7"/>
<circle cx="1115.5" cy="264.5" r="4.7"/>
<circle cx="1179.1" cy="267.3" r="4.7"/>
<circle cx="1075.5" cy="267.3" r="4.7"/>
<circle cx="1068.2" cy="263.6" r="4.7"/>
<circle cx="1051.8" cy="264.5" r="4.7"/>
<circle cx="1040.9" cy="260.9" r="4.7"/>
<circle cx="1031.8" cy="259.1" r="4.7"/>
<circle cx="1024.5" cy="264.5" r="4.7"/>
<circle cx="1017.3" cy="271.8" r="4.7"/>
<circle cx="960.0" cy="272.7" r="4.7"/>
<circle cx="990.0" cy="282.7" r="4.7"/>
<circle cx="1010.9" cy="282.7" r="4.7"/>
<circle cx="1030.0" cy="281.8" r="4.7"/>
<circle cx="1079.1" cy="273.6" r="4.7"/>
<circle cx="1088.2" cy="277.3" r="4.7"/>
<circle cx="1100.9" cy="266.4" r="4.7"/>
<circle cx="1095.5" cy="270.0" r="4.7"/>
<circle cx="1108.2" cy="273.6" r="4.7"/>
<circle cx="1119.1" cy="270.0" r="4.7"/>
<circle cx="1129.1" cy="272.7" r="4.7"/>
<circle cx="1124.5" cy="279.1" r="4.7"/>
<circle cx="1135.5" cy="278.2" r="4.7"/>
<circle cx="1177.3" cy="280.0" r="4.7"/>
<circle cx="1145.5" cy="283.6" r="4.7"/>
<circle cx="1095.5" cy="205.5" r="4.7"/>
<circle cx="1040.9" cy="275.9" r="4.7"/>
<circle cx="1048.2" cy="270.5" r="4.7"/>
<circle cx="1051.8" cy="279.5" r="4.7"/>
<circle cx="1059.1" cy="274.1" r="4.7"/>
<circle cx="1066.4" cy="270.5" r="4.7"/>
<circle cx="1079.1" cy="277.7" r="4.7"/>
<circle cx="1102.7" cy="274.1" r="4.7"/>
<circle cx="1120.9" cy="274.1" r="4.7"/>
<circle cx="1010.0" cy="288.6" r="4.7"/>
<circle cx="1028.2" cy="292.3" r="4.7"/>
<circle cx="1040.9" cy="288.6" r="4.7"/>
<circle cx="1048.2" cy="294.1" r="4.7"/>
<circle cx="1055.5" cy="288.6" r="4.7"/>
<circle cx="1062.7" cy="285.0" r="4.7"/>
<circle cx="1070.0" cy="286.8" r="4.7"/>
<circle cx="1059.1" cy="297.7" r="4.7"/>
<circle cx="1051.8" cy="303.2" r="4.7"/>
<circle cx="1044.5" cy="301.4" r="4.7"/>
<circle cx="1040.9" cy="306.8" r="4.7"/>
<circle cx="1066.4" cy="297.7" r="4.7"/>
<circle cx="1073.6" cy="295.9" r="4.7"/>
<circle cx="1062.7" cy="306.8" r="4.7"/>
<circle cx="1070.0" cy="308.6" r="4.7"/>
<circle cx="1088.2" cy="288.6" r="4.7"/>
<circle cx="1093.6" cy="294.1" r="4.7"/>
<circle cx="1093.6" cy="299.5" r="4.7"/>
<circle cx="1086.4" cy="303.2" r="4.7"/>
<circle cx="1091.8" cy="305.0" r="4.7"/>
<circle cx="1110.0" cy="297.7" r="4.7"/>
<circle cx="1113.6" cy="290.5" r="4.7"/>
<circle cx="1140.9" cy="297.7" r="4.7"/>
<circle cx="1146.4" cy="286.8" r="4.7"/>
<circle cx="1151.8" cy="292.3" r="4.7"/>
<circle cx="1157.3" cy="297.7" r="4.7"/>
<circle cx="1162.7" cy="301.4" r="4.7"/>
<circle cx="1164.5" cy="308.6" r="4.7"/>
<circle cx="1155.5" cy="310.5" r="4.7"/>
<circle cx="1139.1" cy="303.2" r="4.7"/>
<circle cx="1179.1" cy="305.0" r="4.7"/>
<circle cx="1194.5" cy="305.9" r="4.7"/>
<circle cx="1186.4" cy="312.6" r="4.7"/>
<circle cx="1228.2" cy="305.9" r="4.7"/>
<circle cx="1233.6" cy="313.7" r="4.7"/>
<circle cx="1248.2" cy="298.6" r="4.7"/>
<circle cx="1004.5" cy="308.6" r="4.7"/>
<circle cx="993.6" cy="316.8" r="4.7"/>
<circle cx="1004.5" cy="303.2" r="4.7"/>
<circle cx="1022.7" cy="315.9" r="4.7"/>
<circle cx="1030.0" cy="319.5" r="4.7"/>
<circle cx="1022.7" cy="325.0" r="4.7"/>
<circle cx="1017.3" cy="332.3" r="4.7"/>
<circle cx="1037.3" cy="325.0" r="4.7"/>
<circle cx="1044.5" cy="327.7" r="4.7"/>
<circle cx="1053.6" cy="319.5" r="4.7"/>
<circle cx="1059.1" cy="317.7" r="4.7"/>
<circle cx="1066.4" cy="315.9" r="4.7"/>
<circle cx="1071.8" cy="321.4" r="4.7"/>
<circle cx="1077.3" cy="326.8" r="4.7"/>
<circle cx="1082.7" cy="328.6" r="4.7"/>
<circle cx="1082.7" cy="334.1" r="4.7"/>
<circle cx="1075.5" cy="332.3" r="4.7"/>
<circle cx="1068.2" cy="328.6" r="4.7"/>
<circle cx="1095.5" cy="317.7" r="4.7"/>
<circle cx="1102.7" cy="313.2" r="4.7"/>
<circle cx="1090.0" cy="323.2" r="4.7"/>
<circle cx="1096.4" cy="328.6" r="4.7"/>
<circle cx="1113.6" cy="331.4" r="4.7"/>
<circle cx="1124.5" cy="335.0" r="4.7"/>
<circle cx="1140.0" cy="324.1" r="4.7"/>
<circle cx="1148.2" cy="315.9" r="4.7"/>
<circle cx="1167.3" cy="326.8" r="4.7"/>
<circle cx="1160.9" cy="334.1" r="4.7"/>
<circle cx="1162.7" cy="337.7" r="4.7"/>
<circle cx="1177.3" cy="326.8" r="4.7"/>
<circle cx="1184.5" cy="323.2" r="4.7"/>
<circle cx="1011.8" cy="337.7" r="4.7"/>
<circle cx="1017.3" cy="341.4" r="4.7"/>
<circle cx="1031.8" cy="343.2" r="4.7"/>
<circle cx="1039.1" cy="349.5" r="4.7"/>
<circle cx="1054.5" cy="338.6" r="4.7"/>
<circle cx="1059.1" cy="343.2" r="4.7"/>
<circle cx="1060.9" cy="348.6" r="4.7"/>
<circle cx="1062.7" cy="355.9" r="4.7"/>
<circle cx="1077.3" cy="345.0" r="4.7"/>
<circle cx="1080.9" cy="350.5" r="4.7"/>
<circle cx="1084.5" cy="355.9" r="4.7"/>
<circle cx="1088.2" cy="361.4" r="4.7"/>
<circle cx="1090.0" cy="366.8" r="4.7"/>
<circle cx="1100.9" cy="360.5" r="4.7"/>
<circle cx="1095.5" cy="370.5" r="4.7"/>
<circle cx="1093.6" cy="375.9" r="4.7"/>
<circle cx="1088.2" cy="379.5" r="4.7"/>
<circle cx="1091.8" cy="383.2" r="4.7"/>
<circle cx="1074.5" cy="365.0" r="4.7"/>
<circle cx="1115.5" cy="349.5" r="4.7"/>
<circle cx="1140.9" cy="343.2" r="4.7"/>
<circle cx="1198.2" cy="342.6" r="4.7"/>
<circle cx="1127.3" cy="361.4" r="4.7"/>
<circle cx="1122.7" cy="372.3" r="4.7"/>
<circle cx="1172.7" cy="369.2" r="4.7"/>
<circle cx="1211.8" cy="357.2" r="4.7"/>
<circle cx="1230.9" cy="354.1" r="4.7"/>
<circle cx="1018.2" cy="353.2" r="4.7"/>
<circle cx="1028.2" cy="383.2" r="4.7"/>
<circle cx="1003.6" cy="387.7" r="4.7"/>
<circle cx="1071.8" cy="390.5" r="4.7"/>
<circle cx="1073.6" cy="395.9" r="4.7"/>
<circle cx="1070.0" cy="401.4" r="4.7"/>
<circle cx="1075.5" cy="406.8" r="4.7"/>
<circle cx="1030.9" cy="402.3" r="4.7"/>
<circle cx="1040.9" cy="401.4" r="4.7"/>
<circle cx="1040.9" cy="405.9" r="4.7"/>
<circle cx="1016.4" cy="409.5" r="4.7"/>
<circle cx="1091.8" cy="398.6" r="4.7"/>
<circle cx="1150.9" cy="390.8" r="4.7"/>
<circle cx="1096.4" cy="412.3" r="4.7"/>
<circle cx="1100.0" cy="415.9" r="4.7"/>
<circle cx="1140.0" cy="413.2" r="4.7"/>
<circle cx="1012.7" cy="415.9" r="4.7"/>
<circle cx="1016.4" cy="431.4" r="4.7"/>
<circle cx="1077.3" cy="417.7" r="4.7"/>
<circle cx="1079.1" cy="420.5" r="4.7"/>
<circle cx="1065.5" cy="426.8" r="4.7"/>
<circle cx="1059.1" cy="431.4" r="4.7"/>
<circle cx="1048.2" cy="442.3" r="4.7"/>
<circle cx="1071.8" cy="445.9" r="4.7"/>
<circle cx="1077.3" cy="445.9" r="4.7"/>
<circle cx="1089.1" cy="450.5" r="4.7"/>
<circle cx="1105.5" cy="450.5" r="4.7"/>
<circle cx="1130.0" cy="450.5" r="4.7"/>
<circle cx="1110.9" cy="456.8" r="4.7"/>
<circle cx="1069.1" cy="461.4" r="4.7"/>
<circle cx="1056.4" cy="468.6" r="4.7"/>
<circle cx="1126.4" cy="461.4" r="4.7"/>
<circle cx="1156.4" cy="468.6" r="4.7"/>
<circle cx="1131.8" cy="479.5" r="4.7"/>
<circle cx="1127.3" cy="480.5" r="4.7"/>
<circle cx="1076.4" cy="486.8" r="4.7"/>
<circle cx="1090.0" cy="495.0" r="4.7"/>
<circle cx="1110.9" cy="516.8" r="4.7"/>
<circle cx="1297.6" cy="212.7" r="4.7"/>
<circle cx="1326.7" cy="271.8" r="4.7"/>
<circle cx="1157.3" cy="317.3" r="4.7"/>
<circle cx="1167.3" cy="336.4" r="4.7"/>
<circle cx="1270.9" cy="327.6" r="4.7"/>
<circle cx="1268.5" cy="346.4" r="4.7"/>
<circle cx="1298.2" cy="353.6" r="4.7"/>
<circle cx="1281.8" cy="390.8" r="4.7"/>
<circle cx="1081.8" cy="528.6" r="4.7"/>
<circle cx="1132.7" cy="532.3" r="4.7"/>
<circle cx="1173.6" cy="580.5" r="4.7"/>
<circle cx="1435.3" cy="246.7" r="4.7"/>
<circle cx="1571.0" cy="409.7" r="4.7"/>
<circle cx="1032.4" cy="255.5" r="4.7"/>
<circle cx="1043.2" cy="261.4" r="4.7"/>
<circle cx="1048.8" cy="256.5" r="4.7"/>
<circle cx="1060.8" cy="262.3" r="4.7"/>
<circle cx="1035.6" cy="262.0" r="4.7"/>
<circle cx="1042.7" cy="264.0" r="4.7"/>
<circle cx="1045.0" cy="262.6" r="4.7"/>
<circle cx="1054.3" cy="268.2" r="4.7"/>
<circle cx="1061.3" cy="266.3" r="4.7"/>
<circle cx="1036.9" cy="271.6" r="4.7"/>
<circle cx="1044.2" cy="269.1" r="4.7"/>
<circle cx="1048.3" cy="270.2" r="4.7"/>
<circle cx="1061.3" cy="272.0" r="4.7"/>
<circle cx="1066.3" cy="273.3" r="4.7"/>
<circle cx="1042.2" cy="281.1" r="4.7"/>
<circle cx="1045.8" cy="280.1" r="4.7"/>
<circle cx="1056.0" cy="282.5" r="4.7"/>
<circle cx="1042.6" cy="270.4" r="4.7"/>
<circle cx="1038.9" cy="278.8" r="4.7"/>
<circle cx="1046.5" cy="273.7" r="4.7"/>
<circle cx="1054.4" cy="274.0" r="4.7"/>
<circle cx="1066.2" cy="279.4" r="4.7"/>
<circle cx="1074.5" cy="272.7" r="4.7"/>
<circle cx="1082.0" cy="280.2" r="4.7"/>
<circle cx="1044.7" cy="284.7" r="4.7"/>
<circle cx="1052.9" cy="285.0" r="4.7"/>
<circle cx="1062.8" cy="284.6" r="4.7"/>
<circle cx="1074.7" cy="284.1" r="4.7"/>
<circle cx="1076.7" cy="279.7" r="4.7"/>
<circle cx="1045.3" cy="290.6" r="4.7"/>
<circle cx="1047.4" cy="294.5" r="4.7"/>
<circle cx="1059.2" cy="292.7" r="4.7"/>
<circle cx="1070.3" cy="288.9" r="4.7"/>
<circle cx="1074.3" cy="293.9" r="4.7"/>
<circle cx="1047.5" cy="301.9" r="4.7"/>
<circle cx="1057.2" cy="298.1" r="4.7"/>
<circle cx="1060.2" cy="295.1" r="4.7"/>
<circle cx="1071.5" cy="298.2" r="4.7"/>
<circle cx="1076.1" cy="301.5" r="4.7"/>
<circle cx="1047.6" cy="303.3" r="4.7"/>
<circle cx="1054.4" cy="304.1" r="4.7"/>
<circle cx="1065.0" cy="304.8" r="4.7"/>
<circle cx="1074.5" cy="308.3" r="4.7"/>
<circle cx="1061.1" cy="308.7" r="4.7"/>
<circle cx="1073.5" cy="311.5" r="4.7"/>
<circle cx="1077.0" cy="312.3" r="4.7"/>
</g>
<g fill="#e23e12">
<circle cx="1052.7" cy="46.0" r="4.7"/>
<circle cx="1034.0" cy="83.1" r="4.7"/>
<circle cx="1056.4" cy="86.9" r="4.7"/>
<circle cx="1064.9" cy="101.5" r="4.7"/>
<circle cx="1141.3" cy="116.0" r="4.7"/>
<circle cx="1052.2" cy="120.0" r="4.7"/>
<circle cx="1036.4" cy="130.9" r="4.7"/>
<circle cx="1105.5" cy="142.4" r="4.7"/>
<circle cx="1062.7" cy="145.5" r="4.7"/>
<circle cx="1058.2" cy="148.2" r="4.7"/>
<circle cx="1049.1" cy="150.0" r="4.7"/>
<circle cx="1019.1" cy="150.0" r="4.7"/>
<circle cx="1014.5" cy="156.7" r="4.7"/>
<circle cx="1030.0" cy="157.3" r="4.7"/>
<circle cx="1103.6" cy="153.6" r="4.7"/>
<circle cx="1090.9" cy="160.9" r="4.7"/>
<circle cx="1047.3" cy="159.1" r="4.7"/>
<circle cx="1054.5" cy="163.6" r="4.7"/>
<circle cx="1059.1" cy="166.4" r="4.7"/>
<circle cx="1074.5" cy="164.5" r="4.7"/>
<circle cx="1069.1" cy="170.0" r="4.7"/>
<circle cx="1049.1" cy="170.9" r="4.7"/>
<circle cx="1088.2" cy="170.9" r="4.7"/>
<circle cx="1089.1" cy="175.5" r="4.7"/>
<circle cx="1130.0" cy="171.8" r="4.7"/>
<circle cx="1146.0" cy="175.5" r="4.7"/>
<circle cx="1106.4" cy="175.5" r="4.7"/>
<circle cx="1112.7" cy="177.3" r="4.7"/>
<circle cx="1111.8" cy="180.0" r="4.7"/>
<circle cx="1098.2" cy="180.0" r="4.7"/>
<circle cx="1049.1" cy="179.1" r="4.7"/>
<circle cx="1057.3" cy="180.0" r="4.7"/>
<circle cx="1064.5" cy="175.5" r="4.7"/>
<circle cx="1062.7" cy="182.7" r="4.7"/>
<circle cx="1051.8" cy="188.2" r="4.7"/>
<circle cx="1059.1" cy="188.2" r="4.7"/>
<circle cx="1131.8" cy="186.7" r="4.7"/>
<circle cx="1140.0" cy="186.4" r="4.7"/>
<circle cx="1077.3" cy="186.4" r="4.7"/>
<circle cx="1085.5" cy="186.4" r="4.7"/>
<circle cx="1093.6" cy="190.0" r="4.7"/>
<circle cx="1100.9" cy="191.8" r="4.7"/>
<circle cx="1070.0" cy="193.6" r="4.7"/>
<circle cx="1077.3" cy="194.5" r="4.7"/>
<circle cx="1066.4" cy="199.1" r="4.7"/>
<circle cx="1075.5" cy="200.9" r="4.7"/>
<circle cx="1088.2" cy="199.1" r="4.7"/>
<circle cx="1102.7" cy="200.9" r="4.7"/>
<circle cx="1053.6" cy="205.5" r="4.7"/>
<circle cx="1108.2" cy="209.1" r="4.7"/>
<circle cx="1130.9" cy="212.4" r="4.7"/>
<circle cx="1070.0" cy="211.8" r="4.7"/>
<circle cx="1077.3" cy="210.0" r="4.7"/>
<circle cx="1084.5" cy="211.8" r="4.7"/>
<circle cx="1091.8" cy="213.6" r="4.7"/>
<circle cx="1104.5" cy="213.6" r="4.7"/>
<circle cx="1048.2" cy="216.4" r="4.7"/>
<circle cx="1055.5" cy="220.9" r="4.7"/>
<circle cx="1115.5" cy="216.4" r="4.7"/>
<circle cx="1120.9" cy="219.1" r="4.7"/>
<circle cx="1184.0" cy="220.4" r="4.7"/>
<circle cx="1070.0" cy="219.1" r="4.7"/>
<circle cx="1077.3" cy="220.0" r="4.7"/>
<circle cx="1099.1" cy="220.9" r="4.7"/>
<circle cx="1106.4" cy="222.7" r="4.7"/>
<circle cx="1139.1" cy="222.7" r="4.7"/>
<circle cx="1145.5" cy="222.7" r="4.7"/>
<circle cx="1122.7" cy="225.5" r="4.7"/>
<circle cx="1153.6" cy="226.4" r="4.7"/>
<circle cx="1070.0" cy="226.4" r="4.7"/>
<circle cx="1077.3" cy="225.5" r="4.7"/>
<circle cx="1091.8" cy="225.5" r="4.7"/>
<circle cx="1100.9" cy="228.2" r="4.7"/>
<circle cx="1087.3" cy="230.9" r="4.7"/>
<circle cx="1150.0" cy="232.7" r="4.7"/>
<circle cx="1154.5" cy="231.8" r="4.7"/>
<circle cx="1095.5" cy="233.6" r="4.7"/>
<circle cx="1104.5" cy="233.6" r="4.7"/>
<circle cx="1206.4" cy="234.9" r="4.7"/>
<circle cx="1122.7" cy="237.3" r="4.7"/>
<circle cx="1128.2" cy="237.3" r="4.7"/>
<circle cx="1139.1" cy="238.2" r="4.7"/>
<circle cx="1157.3" cy="239.1" r="4.7"/>
<circle cx="1167.3" cy="239.1" r="4.7"/>
<circle cx="1175.5" cy="238.2" r="4.7"/>
<circle cx="1100.9" cy="238.2" r="4.7"/>
<circle cx="1140.0" cy="242.7" r="4.7"/>
<circle cx="1058.2" cy="249.1" r="4.7"/>
<circle cx="1172.7" cy="250.0" r="4.7"/>
<circle cx="1225.5" cy="260.9" r="4.7"/>
<circle cx="1144.5" cy="268.2" r="4.7"/>
<circle cx="1173.6" cy="271.8" r="4.7"/>
<circle cx="1222.7" cy="276.4" r="4.7"/>
<circle cx="1240.9" cy="220.0" r="4.7"/>
<circle cx="1247.3" cy="227.3" r="4.7"/>
<circle cx="1247.3" cy="138.7" r="4.7"/>
<circle cx="1127.8" cy="298.1" r="4.7"/>
<circle cx="1130.0" cy="309.2" r="4.7"/>
<circle cx="1080.0" cy="317.2" r="4.7"/>
<circle cx="1254.5" cy="157.3" r="4.7"/>
<circle cx="1154.5" cy="220.0" r="4.7"/>
<circle cx="1055.6" cy="150.1" r="4.7"/>
<circle cx="1055.4" cy="157.3" r="4.7"/>
<circle cx="1053.4" cy="162.6" r="4.7"/>
<circle cx="1059.0" cy="164.8" r="4.7"/>
<circle cx="1071.7" cy="165.1" r="4.7"/>
<circle cx="1044.6" cy="170.0" r="4.7"/>
<circle cx="1055.9" cy="166.8" r="4.7"/>
<circle cx="1068.5" cy="168.3" r="4.7"/>
<circle cx="1072.7" cy="168.3" r="4.7"/>
<circle cx="1048.9" cy="172.0" r="4.7"/>
<circle cx="1058.8" cy="179.7" r="4.7"/>
<circle cx="1067.5" cy="178.0" r="4.7"/>
<circle cx="1082.2" cy="179.6" r="4.7"/>
<circle cx="1051.3" cy="186.2" r="4.7"/>
<circle cx="1053.4" cy="187.0" r="4.7"/>
<circle cx="1062.3" cy="181.8" r="4.7"/>
<circle cx="1075.2" cy="186.7" r="4.7"/>
<circle cx="1081.4" cy="186.8" r="4.7"/>
<circle cx="1050.2" cy="186.7" r="4.7"/>
<circle cx="1065.7" cy="190.8" r="4.7"/>
<circle cx="1069.2" cy="188.3" r="4.7"/>
<circle cx="1079.3" cy="193.3" r="4.7"/>
<circle cx="1086.7" cy="189.9" r="4.7"/>
<circle cx="1091.8" cy="194.1" r="4.7"/>
<circle cx="1066.9" cy="200.3" r="4.7"/>
<circle cx="1071.0" cy="197.3" r="4.7"/>
<circle cx="1079.8" cy="200.8" r="4.7"/>
<circle cx="1089.6" cy="197.5" r="4.7"/>
<circle cx="1104.0" cy="200.9" r="4.7"/>
<circle cx="1069.0" cy="209.4" r="4.7"/>
<circle cx="1082.5" cy="206.3" r="4.7"/>
<circle cx="1087.0" cy="203.9" r="4.7"/>
<circle cx="1092.1" cy="203.3" r="4.7"/>
<circle cx="1106.4" cy="208.4" r="4.7"/>
<circle cx="1067.2" cy="214.8" r="4.7"/>
<circle cx="1073.1" cy="214.4" r="4.7"/>
<circle cx="1080.9" cy="212.5" r="4.7"/>
<circle cx="1093.6" cy="214.2" r="4.7"/>
<circle cx="1098.0" cy="216.4" r="4.7"/>
<circle cx="1071.3" cy="222.5" r="4.7"/>
<circle cx="1077.3" cy="221.2" r="4.7"/>
<circle cx="1089.1" cy="222.8" r="4.7"/>
<circle cx="1094.3" cy="222.9" r="4.7"/>
<circle cx="1107.2" cy="221.6" r="4.7"/>
<circle cx="1084.4" cy="229.2" r="4.7"/>
<circle cx="1093.3" cy="224.5" r="4.7"/>
<circle cx="1102.2" cy="228.0" r="4.7"/>
<circle cx="1088.2" cy="230.8" r="4.7"/>
<circle cx="1095.3" cy="232.4" r="4.7"/>
<circle cx="1100.3" cy="231.6" r="4.7"/>
</g>
<path d="M1461 36.5V109M1430 73H1491.5" stroke="#111" stroke-width="1.6" fill="none"/>
<text x="1502.0" y="86.0" font-size="23.5" text-anchor="start" font-weight="normal" font-style="italic" fill="#111" >TA error</text>
<polygon points="1291.9,149.3 1327.4,174.0 1334.4,164.8 1356.4,208.7 1306.7,203.5 1313.7,193.5 1278.0,167.8" fill="#fff" stroke="#111" stroke-width="1.9"/>
<text x="1474.0" y="211.7" font-size="20.5" text-anchor="end" font-weight="normal" font-style="normal" fill="#111" >Lithospheric</text>
<text x="1474.0" y="235.0" font-size="20.5" text-anchor="end" font-weight="normal" font-style="normal" fill="#111" >contamination</text>
<text x="1600.0" y="307.0" font-size="20.4" text-anchor="end" font-weight="normal" font-style="italic" fill="#111" >Kaapvaal crust</text>
<ellipse cx="995.0" cy="111.0" rx="24.0" ry="42.0" transform="rotate(22.0 995.0 111.0)" fill="none" stroke="#111" stroke-width="1.7" stroke-dasharray="13 4.8"/>
<ellipse cx="1011.0" cy="303.0" rx="27.5" ry="50.0" transform="rotate(-3.0 1011.0 303.0)" fill="none" stroke="#111" stroke-width="1.7" stroke-dasharray="13 4.8"/>
<ellipse cx="1121.0" cy="526.0" rx="64.0" ry="33.0" transform="rotate(38.0 1121.0 526.0)" fill="none" stroke="#111" stroke-width="1.7" stroke-dasharray="13 4.8"/>
<rect x="985.8" y="63.3" width="50.0" height="30.7" fill="#161616"/>
<text x="990.4" y="84.8" font-size="18.6" font-weight="bold" fill="#fff">PM<tspan font-size="11" dy="5" dx="0.5">NC</tspan></text>
<rect x="977.0" y="246.3" width="36.5" height="23.0" fill="#161616"/>
<text x="995.2" y="265.7" font-size="18.6" text-anchor="middle" font-weight="bold" font-style="normal" fill="#fff" >DM</text>
<rect x="1136.0" y="551.8" width="60.5" height="22.3" fill="#161616"/>
<text x="1166.2" y="569.8" font-size="18.4" text-anchor="middle" font-weight="bold" font-style="normal" fill="#fff" >SCLM</text>
<text x="1057.0" y="78.7" font-size="20.0" text-anchor="start" font-weight="bold" font-style="normal" fill="#111" >P-dykes</text>
<line x1="1077.7" y1="86.0" x2="1030.7" y2="110.6" stroke="#111" stroke-width="1.4"/>
<polygon points="1022.3,115.0 1029.0,107.3 1032.4,113.9" fill="#111"/>
<text x="1071.5" y="132.3" font-size="19.0" text-anchor="start" font-weight="normal" font-style="italic" fill="#111" >’OIB’1</text>
<line x1="1069.0" y1="128.0" x2="1052.9" y2="139.5" stroke="#111" stroke-width="1.4"/>
<polygon points="1045.2,145.0 1050.8,136.5 1055.1,142.5" fill="#111"/>
<text x="965.8" y="212.2" font-size="16.0" text-anchor="start" font-weight="normal" font-style="italic" fill="#111" >AR</text>
<line x1="984.0" y1="216.7" x2="998.7" y2="223.6" stroke="#111" stroke-width="1.4"/>
<polygon points="1007.3,227.7 997.1,227.0 1000.3,220.3" fill="#111"/>
<text x="970.8" y="376.4" font-size="20.0" text-anchor="start" font-weight="bold" font-style="normal" fill="#111" >D-picrites</text>
<text x="1162.0" y="509.4" font-size="20.0" text-anchor="start" font-weight="bold" font-style="normal" fill="#111" stroke="#fff" stroke-width="5" paint-order="stroke" stroke-linejoin="round">E-picrites</text>
<text x="1577.0" y="373.5" font-size="20.0" text-anchor="end" font-weight="normal" font-style="italic" fill="#111" >Karoo</text>
<text x="1597.0" y="397.0" font-size="20.0" text-anchor="end" font-weight="normal" font-style="italic" fill="#111" >sandstone</text>
<text x="1032.5" y="489.0" font-size="18.0" text-anchor="start" font-weight="normal" font-style="italic" fill="#111" >L1</text>
<text x="1089.2" y="593.9" font-size="18.0" text-anchor="start" font-weight="normal" font-style="italic" fill="#111" >L2</text>
<text x="964.2" y="510.7" font-size="19.5" text-anchor="start" font-weight="normal" font-style="italic" fill="#111" >’OIB’2</text>
<line x1="983.0" y1="487.5" x2="988.4" y2="472.2" stroke="#111" stroke-width="1.4"/>
<polygon points="991.6,463.2 991.9,473.4 984.9,470.9" fill="#111"/>
<polygon points="1031.4,437.5 1036.0,449.5 1050.6,449.6 1038.8,457.1 1043.3,469.2 1031.4,461.7 1019.5,469.2 1024.0,457.1 1012.2,449.6 1026.8,449.5" fill="#b4b4b4" stroke="#1a1a1a" stroke-width="1.8" stroke-linejoin="miter"/>
<polygon points="1611.3,362.5 1615.9,374.5 1630.5,374.6 1618.7,382.1 1623.2,394.2 1611.3,386.7 1599.4,394.2 1603.9,382.1 1592.1,374.6 1606.7,374.5" fill="#b4b4b4" stroke="#1a1a1a" stroke-width="1.8" stroke-linejoin="miter"/>
<polygon points="1131.7,561.8 1136.3,573.8 1150.9,573.9 1139.1,581.4 1143.6,593.5 1131.7,586.0 1119.8,593.5 1124.3,581.4 1112.5,573.9 1127.1,573.8" fill="#b4b4b4" stroke="#1a1a1a" stroke-width="1.8" stroke-linejoin="miter"/>
<rect x="979.3" y="131.0" width="9.1" height="9.1" fill="#e23e12" stroke="#111" stroke-width="2.5"/>
<rect x="982.3" y="126.0" width="9.1" height="9.1" fill="#e23e12" stroke="#111" stroke-width="2.5"/>
<rect x="976.5" y="97.1" width="9.1" height="9.1" fill="#e23e12" stroke="#111" stroke-width="2.5"/>
<rect x="1006.2" y="78.6" width="9.1" height="9.1" fill="#e23e12" stroke="#111" stroke-width="2.5"/>
<rect x="1017.5" y="215.9" width="9.1" height="9.1" fill="#11a0d7" stroke="#111" stroke-width="2.5"/>
<rect x="1009.0" y="216.4" width="9.1" height="9.1" fill="#11a0d7" stroke="#111" stroke-width="2.5"/>
<rect x="1009.0" y="223.2" width="9.1" height="9.1" fill="#11a0d7" stroke="#111" stroke-width="2.5"/>
<rect x="1019.5" y="221.4" width="9.1" height="9.1" fill="#11a0d7" stroke="#111" stroke-width="2.5"/>
<rect x="1023.7" y="227.2" width="9.1" height="9.1" fill="#11a0d7" stroke="#111" stroke-width="2.5"/>
<rect x="1004.0" y="260.1" width="9.1" height="9.1" fill="#11a0d7" stroke="#111" stroke-width="2.5"/>
<rect x="1004.0" y="268.1" width="9.1" height="9.1" fill="#11a0d7" stroke="#111" stroke-width="2.5"/>
<rect x="1011.0" y="289.6" width="9.1" height="9.1" fill="#11a0d7" stroke="#111" stroke-width="2.5"/>
<rect x="1025.7" y="297.6" width="9.1" height="9.1" fill="#11a0d7" stroke="#111" stroke-width="2.5"/>
<rect x="1010.2" y="313.1" width="9.1" height="9.1" fill="#11a0d7" stroke="#111" stroke-width="2.5"/>
<rect x="997.0" y="316.3" width="9.1" height="9.1" fill="#11a0d7" stroke="#111" stroke-width="2.5"/>
<rect x="1001.2" y="320.0" width="9.1" height="9.1" fill="#11a0d7" stroke="#111" stroke-width="2.5"/>
<rect x="1002.5" y="337.5" width="9.1" height="9.1" fill="#11a0d7" stroke="#111" stroke-width="2.5"/>
<rect x="1092.3" y="479.3" width="9.1" height="9.1" fill="#11a0d7" stroke="#111" stroke-width="2.5"/>
<rect x="1094.7" y="494.3" width="9.1" height="9.1" fill="#11a0d7" stroke="#111" stroke-width="2.5"/>
<rect x="1145.6" y="516.0" width="9.1" height="9.1" fill="#11a0d7" stroke="#111" stroke-width="2.5"/>
<rect x="1140.3" y="523.3" width="9.1" height="9.1" fill="#11a0d7" stroke="#111" stroke-width="2.5"/>
<rect x="1133.5" y="531.3" width="9.1" height="9.1" fill="#11a0d7" stroke="#111" stroke-width="2.5"/>
<rect x="1118.9" y="553.7" width="9.1" height="9.1" fill="#11a0d7" stroke="#111" stroke-width="2.5"/>
<rect x="1033.9" y="147.0" width="9.2" height="9.2" fill="#fff" stroke="#11a0d7" stroke-width="2.2"/>
<rect x="997.7" y="169.4" width="9.2" height="9.2" fill="#fff" stroke="#11a0d7" stroke-width="2.2"/>
<rect x="1014.4" y="182.2" width="9.2" height="9.2" fill="#fff" stroke="#11a0d7" stroke-width="2.2"/>
<rect x="1016.4" y="194.4" width="9.2" height="9.2" fill="#fff" stroke="#11a0d7" stroke-width="2.2"/>
<rect x="986.7" y="431.7" width="9.2" height="9.2" fill="#fff" stroke="#11a0d7" stroke-width="2.2"/>
<rect x="988.0" y="438.3" width="9.2" height="9.2" fill="#fff" stroke="#11a0d7" stroke-width="2.2"/>
<rect x="997.0" y="441.5" width="9.2" height="9.2" fill="#fff" stroke="#11a0d7" stroke-width="2.2"/>
<rect x="997.0" y="450.7" width="9.2" height="9.2" fill="#fff" stroke="#11a0d7" stroke-width="2.2"/>
<g fill="#11a0d7">
<circle cx="1188.5" cy="561.4" r="4.7"/>
</g>
<path d="M943.8 45.7H958.8M943.8 231.0H958.8M943.8 416.3H958.8M943.8 601.6H958.8M946.3 8.6H958.8M946.3 82.8H958.8M946.3 119.8H958.8M946.3 156.9H958.8M946.3 193.9H958.8M946.3 268.1H958.8M946.3 305.1H958.8M946.3 342.2H958.8M946.3 379.2H958.8M946.3 453.4H958.8M946.3 490.4H958.8M946.3 527.5H958.8M946.3 564.5H958.8M958.8 601.8V615.8M1080.6 601.8V615.8M1202.4 601.8V615.8M1324.2 601.8V615.8M1446.0 601.8V615.8M1567.8 601.8V615.8" stroke="#111" stroke-width="2" fill="none"/>
<rect x="958.8" y="8.5" width="672.2" height="593.3" fill="none" stroke="#111" stroke-width="2"/>
<text transform="translate(958.8 644.8) scale(0.955 1)" font-size="27.7" text-anchor="middle" fill="#111">0</text>
<text transform="translate(1080.6 644.8) scale(0.955 1)" font-size="27.7" text-anchor="middle" fill="#111">0.2</text>
<text transform="translate(1202.4 644.8) scale(0.955 1)" font-size="27.7" text-anchor="middle" fill="#111">0.4</text>
<text transform="translate(1324.2 644.8) scale(0.955 1)" font-size="27.7" text-anchor="middle" fill="#111">0.6</text>
<text transform="translate(1446.0 644.8) scale(0.955 1)" font-size="27.7" text-anchor="middle" fill="#111">0.8</text>
<text transform="translate(1567.8 644.8) scale(0.955 1)" font-size="27.7" text-anchor="middle" fill="#111">1.0</text>
<text transform="translate(934.5 55.5) scale(0.955 1)" font-size="27.7" text-anchor="end" fill="#111">0.5</text>
<text transform="translate(934.5 240.8) scale(0.955 1)" font-size="27.7" text-anchor="end" fill="#111">0</text>
<text transform="translate(934.5 426.1) scale(0.955 1)" font-size="27.7" text-anchor="end" fill="#111">-0.5</text>
<text transform="translate(938.3 611.4) scale(0.955 1)" font-size="27.7" text-anchor="end" fill="#111">-1.0</text>
<text x="1299.3" y="684.5" font-size="34.1" text-anchor="middle" font-weight="normal" font-style="normal" fill="#111" >Th/Nb</text>
<text transform="translate(899.3 312.0) rotate(-90)" font-size="32.5" text-anchor="middle" fill="#111">ΔNb</text>
<text x="849.2" y="45.7" font-size="37.0" text-anchor="start" font-weight="bold" font-style="normal" fill="#111" >b</text>
<rect x="267" y="990.4" width="511.3" height="314.4" fill="#ebebeb"/>
<path d="M267 1304.8V990.4H778.3" stroke="#111" stroke-width="1.9" stroke-dasharray="5.4 4.05" fill="none"/>
<text x="281.6" y="770.7" font-size="17.3" text-anchor="start" font-weight="bold" font-style="normal" fill="#999" >EM1</text>
<path d="M263.7 780.0H285.7M274.7 769.0V791.0" stroke="#999" stroke-width="3.6" fill="none"/>
<text x="264.7" y="850.6" font-size="17.3" text-anchor="start" font-weight="bold" font-style="normal" fill="#999" >PM</text>
<path d="M249.2 863.5H271.2M260.2 852.5V874.5" stroke="#999" stroke-width="3.6" fill="none"/>
<g fill="#11a0d7">
<circle cx="354.9" cy="887.3" r="4.7"/>
<circle cx="208.5" cy="903.6" r="4.7"/>
<circle cx="269.5" cy="908.5" r="4.7"/>
<circle cx="256.0" cy="915.1" r="4.7"/>
<circle cx="250.0" cy="921.5" r="4.7"/>
<circle cx="285.5" cy="917.3" r="4.7"/>
<circle cx="290.0" cy="916.7" r="4.7"/>
<circle cx="234.5" cy="920.9" r="4.7"/>
<circle cx="239.1" cy="923.6" r="4.7"/>
<circle cx="241.8" cy="927.3" r="4.7"/>
<circle cx="237.3" cy="932.7" r="4.7"/>
<circle cx="250.0" cy="937.3" r="4.7"/>
<circle cx="191.5" cy="928.2" r="4.7"/>
<circle cx="193.1" cy="940.9" r="4.7"/>
<circle cx="219.1" cy="940.5" r="4.7"/>
<circle cx="247.3" cy="947.3" r="4.7"/>
<circle cx="270.9" cy="948.7" r="4.7"/>
<circle cx="287.6" cy="945.1" r="4.7"/>
<circle cx="314.0" cy="950.5" r="4.7"/>
<circle cx="385.5" cy="936.0" r="4.7"/>
<circle cx="380.5" cy="950.5" r="4.7"/>
<circle cx="366.9" cy="961.5" r="4.7"/>
<circle cx="194.5" cy="960.9" r="4.7"/>
<circle cx="207.3" cy="961.5" r="4.7"/>
<circle cx="190.0" cy="970.0" r="4.7"/>
<circle cx="210.0" cy="971.8" r="4.7"/>
<circle cx="218.7" cy="970.9" r="4.7"/>
<circle cx="230.9" cy="964.5" r="4.7"/>
<circle cx="228.2" cy="971.8" r="4.7"/>
<circle cx="234.5" cy="975.5" r="4.7"/>
<circle cx="239.1" cy="981.8" r="4.7"/>
<circle cx="246.4" cy="976.4" r="4.7"/>
<circle cx="262.7" cy="970.9" r="4.7"/>
<circle cx="277.3" cy="969.1" r="4.7"/>
<circle cx="257.3" cy="979.1" r="4.7"/>
<circle cx="263.6" cy="980.0" r="4.7"/>
<circle cx="250.0" cy="986.4" r="4.7"/>
<circle cx="315.1" cy="977.3" r="4.7"/>
<circle cx="366.4" cy="976.7" r="4.7"/>
<circle cx="397.3" cy="967.3" r="4.7"/>
<circle cx="405.5" cy="969.1" r="4.7"/>
<circle cx="213.6" cy="986.9" r="4.7"/>
<circle cx="228.2" cy="992.4" r="4.7"/>
<circle cx="248.2" cy="994.5" r="4.7"/>
<circle cx="254.5" cy="996.4" r="4.7"/>
<circle cx="260.9" cy="998.2" r="4.7"/>
<circle cx="286.4" cy="989.1" r="4.7"/>
<circle cx="324.5" cy="986.4" r="4.7"/>
<circle cx="386.4" cy="990.9" r="4.7"/>
<circle cx="378.2" cy="994.5" r="4.7"/>
<circle cx="341.8" cy="996.4" r="4.7"/>
<circle cx="351.8" cy="996.4" r="4.7"/>
<circle cx="330.0" cy="1001.8" r="4.7"/>
<circle cx="344.5" cy="1003.6" r="4.7"/>
<circle cx="350.0" cy="1009.1" r="4.7"/>
<circle cx="242.7" cy="1002.7" r="4.7"/>
<circle cx="212.7" cy="1002.7" r="4.7"/>
<circle cx="206.4" cy="998.2" r="4.7"/>
<circle cx="270.9" cy="1000.0" r="4.7"/>
<circle cx="263.6" cy="1007.3" r="4.7"/>
<circle cx="277.3" cy="1011.8" r="4.7"/>
<circle cx="290.0" cy="1009.1" r="4.7"/>
<circle cx="200.9" cy="1011.8" r="4.7"/>
<circle cx="406.4" cy="1001.8" r="4.7"/>
<circle cx="416.4" cy="1003.6" r="4.7"/>
<circle cx="422.7" cy="1006.4" r="4.7"/>
<circle cx="435.5" cy="1008.2" r="4.7"/>
<circle cx="380.9" cy="1012.7" r="4.7"/>
<circle cx="439.1" cy="1013.6" r="4.7"/>
<circle cx="355.5" cy="1013.6" r="4.7"/>
<circle cx="199.1" cy="1021.4" r="4.7"/>
<circle cx="208.2" cy="1028.6" r="4.7"/>
<circle cx="223.6" cy="1018.6" r="4.7"/>
<circle cx="257.3" cy="1017.7" r="4.7"/>
<circle cx="255.5" cy="1022.3" r="4.7"/>
<circle cx="264.5" cy="1022.3" r="4.7"/>
<circle cx="285.5" cy="1020.5" r="4.7"/>
<circle cx="342.7" cy="1016.8" r="4.7"/>
<circle cx="339.1" cy="1018.6" r="4.7"/>
<circle cx="340.9" cy="1027.7" r="4.7"/>
<circle cx="320.0" cy="1028.3" r="4.7"/>
<circle cx="426.4" cy="1019.5" r="4.7"/>
<circle cx="385.5" cy="1038.3" r="4.7"/>
<circle cx="420.9" cy="1043.2" r="4.7"/>
<circle cx="440.5" cy="1039.2" r="4.7"/>
<circle cx="335.1" cy="1041.4" r="4.7"/>
<circle cx="274.5" cy="1034.1" r="4.7"/>
<circle cx="270.0" cy="1036.8" r="4.7"/>
<circle cx="265.5" cy="1039.5" r="4.7"/>
<circle cx="268.2" cy="1046.8" r="4.7"/>
<circle cx="257.3" cy="1046.8" r="4.7"/>
<circle cx="290.9" cy="1035.9" r="4.7"/>
<circle cx="299.1" cy="1040.5" r="4.7"/>
<circle cx="304.5" cy="1037.7" r="4.7"/>
<circle cx="314.5" cy="1048.1" r="4.7"/>
<circle cx="230.9" cy="1044.5" r="4.7"/>
<circle cx="219.1" cy="1051.7" r="4.7"/>
<circle cx="235.5" cy="1053.5" r="4.7"/>
<circle cx="245.1" cy="1050.5" r="4.7"/>
<circle cx="302.4" cy="1054.6" r="4.7"/>
<circle cx="320.9" cy="1061.4" r="4.7"/>
<circle cx="294.2" cy="1064.6" r="4.7"/>
<circle cx="310.0" cy="1064.1" r="4.7"/>
<circle cx="308.7" cy="1073.7" r="4.7"/>
<circle cx="260.9" cy="1073.2" r="4.7"/>
<circle cx="221.8" cy="1074.6" r="4.7"/>
<circle cx="265.5" cy="1083.2" r="4.7"/>
<circle cx="281.8" cy="1084.1" r="4.7"/>
<circle cx="300.5" cy="1082.3" r="4.7"/>
<circle cx="302.7" cy="1087.7" r="4.7"/>
<circle cx="439.1" cy="1071.0" r="4.7"/>
<circle cx="348.7" cy="1094.6" r="4.7"/>
<circle cx="234.5" cy="1095.9" r="4.7"/>
<circle cx="235.5" cy="1101.4" r="4.7"/>
<circle cx="228.5" cy="1104.1" r="4.7"/>
<circle cx="276.4" cy="1100.1" r="4.7"/>
<circle cx="271.8" cy="1106.8" r="4.7"/>
<circle cx="261.8" cy="1105.4" r="4.7"/>
<circle cx="295.5" cy="1112.8" r="4.7"/>
<circle cx="360.9" cy="1115.0" r="4.7"/>
<circle cx="263.6" cy="1117.7" r="4.7"/>
<circle cx="266.4" cy="1121.4" r="4.7"/>
<circle cx="273.6" cy="1121.4" r="4.7"/>
<circle cx="355.1" cy="1125.4" r="4.7"/>
<circle cx="271.5" cy="1136.3" r="4.7"/>
<circle cx="292.7" cy="1165.9" r="4.7"/>
<circle cx="323.6" cy="1171.0" r="4.7"/>
<circle cx="285.5" cy="1199.5" r="4.7"/>
<circle cx="466.4" cy="971.8" r="4.7"/>
<circle cx="575.1" cy="962.2" r="4.7"/>
<circle cx="472.7" cy="999.1" r="4.7"/>
<circle cx="476.9" cy="1050.9" r="4.7"/>
<circle cx="495.8" cy="1114.0" r="4.7"/>
<circle cx="563.6" cy="1125.5" r="4.7"/>
<circle cx="332.7" cy="1005.5" r="4.7"/>
<circle cx="436.4" cy="1015.5" r="4.7"/>
<circle cx="735.1" cy="973.9" r="4.7"/>
</g>
<g fill="#e23e12">
<circle cx="351.5" cy="788.2" r="4.7"/>
<circle cx="269.5" cy="805.5" r="4.7"/>
<circle cx="275.8" cy="815.5" r="4.7"/>
<circle cx="294.0" cy="827.3" r="4.7"/>
<circle cx="253.6" cy="853.6" r="4.7"/>
<circle cx="241.8" cy="862.2" r="4.7"/>
<circle cx="284.5" cy="853.6" r="4.7"/>
<circle cx="290.9" cy="859.1" r="4.7"/>
<circle cx="295.5" cy="860.0" r="4.7"/>
<circle cx="285.5" cy="863.6" r="4.7"/>
<circle cx="273.1" cy="866.9" r="4.7"/>
<circle cx="304.5" cy="852.4" r="4.7"/>
<circle cx="311.8" cy="849.1" r="4.7"/>
<circle cx="322.4" cy="854.0" r="4.7"/>
<circle cx="359.1" cy="854.5" r="4.7"/>
<circle cx="367.3" cy="867.8" r="4.7"/>
<circle cx="338.2" cy="869.1" r="4.7"/>
<circle cx="309.6" cy="867.3" r="4.7"/>
<circle cx="311.8" cy="872.7" r="4.7"/>
<circle cx="304.5" cy="874.5" r="4.7"/>
<circle cx="312.4" cy="880.9" r="4.7"/>
<circle cx="327.3" cy="877.3" r="4.7"/>
<circle cx="324.5" cy="881.8" r="4.7"/>
<circle cx="325.1" cy="889.1" r="4.7"/>
<circle cx="331.8" cy="891.8" r="4.7"/>
<circle cx="360.9" cy="894.0" r="4.7"/>
<circle cx="313.6" cy="895.5" r="4.7"/>
<circle cx="316.4" cy="900.0" r="4.7"/>
<circle cx="321.8" cy="902.7" r="4.7"/>
<circle cx="321.8" cy="908.2" r="4.7"/>
<circle cx="329.1" cy="910.0" r="4.7"/>
<circle cx="336.4" cy="909.1" r="4.7"/>
<circle cx="347.3" cy="907.3" r="4.7"/>
<circle cx="386.4" cy="905.1" r="4.7"/>
<circle cx="381.5" cy="910.5" r="4.7"/>
<circle cx="341.8" cy="916.4" r="4.7"/>
<circle cx="339.1" cy="920.9" r="4.7"/>
<circle cx="320.9" cy="918.2" r="4.7"/>
<circle cx="324.5" cy="920.9" r="4.7"/>
<circle cx="360.9" cy="915.1" r="4.7"/>
<circle cx="430.9" cy="922.4" r="4.7"/>
<circle cx="363.6" cy="926.4" r="4.7"/>
<circle cx="360.9" cy="930.9" r="4.7"/>
<circle cx="439.1" cy="931.8" r="4.7"/>
<circle cx="404.5" cy="932.7" r="4.7"/>
<circle cx="413.6" cy="936.4" r="4.7"/>
<circle cx="340.9" cy="934.2" r="4.7"/>
<circle cx="351.8" cy="935.5" r="4.7"/>
<circle cx="338.2" cy="941.8" r="4.7"/>
<circle cx="376.4" cy="941.8" r="4.7"/>
<circle cx="401.8" cy="942.7" r="4.7"/>
<circle cx="301.5" cy="956.9" r="4.7"/>
<circle cx="415.8" cy="974.5" r="4.7"/>
<circle cx="428.2" cy="1012.7" r="4.7"/>
<circle cx="292.4" cy="1018.6" r="4.7"/>
<circle cx="552.4" cy="964.5" r="4.7"/>
<circle cx="647.2" cy="840.6" r="4.7"/>
</g>
<path d="M647.4 738V811.6M641.4 774.4H653.4" stroke="#111" stroke-width="1.6" fill="none"/>
<text x="659.7" y="785.7" font-size="23.5" text-anchor="start" font-weight="normal" font-style="italic" fill="#111" >TA error</text>
<polygon points="419.5,809.9 456.2,835.6 462.9,826.1 486.1,871.8 435.0,865.3 441.9,856.8 405.5,829.3" fill="#fff" stroke="#111" stroke-width="1.9"/>
<text x="602.7" y="871.8" font-size="20.5" text-anchor="end" font-weight="normal" font-style="normal" fill="#111" >Lithospheric</text>
<text x="602.7" y="895.3" font-size="20.5" text-anchor="end" font-weight="normal" font-style="normal" fill="#111" >contamination</text>
<text x="714.1" y="1010.4" font-size="20.4" text-anchor="end" font-weight="normal" font-style="italic" fill="#111" >Kaapvaal crust</text>
<ellipse cx="218.6" cy="813.3" rx="53.0" ry="25.0" transform="rotate(-30.0 218.6 813.3)" fill="none" stroke="#111" stroke-width="1.7" stroke-dasharray="13 4.8"/>
<ellipse cx="179.0" cy="1003.5" rx="30.0" ry="53.0" transform="rotate(0.0 179.0 1003.5)" fill="none" stroke="#111" stroke-width="1.7" stroke-dasharray="13 4.8"/>
<ellipse cx="310.0" cy="1207.0" rx="41.0" ry="75.0" transform="rotate(26.0 310.0 1207.0)" fill="none" stroke="#111" stroke-width="1.7" stroke-dasharray="13 4.8"/>
<rect x="141.8" y="772.4" width="50.0" height="30.7" fill="#161616"/>
<text x="146.4" y="793.9" font-size="18.6" font-weight="bold" fill="#fff">PM<tspan font-size="11" dy="5" dx="0.5">NC</tspan></text>
<rect x="123.5" y="944.3" width="36.5" height="23.0" fill="#161616"/>
<text x="141.8" y="963.7" font-size="18.6" text-anchor="middle" font-weight="bold" font-style="normal" fill="#fff" >DM</text>
<rect x="309.2" y="1249.0" width="60.5" height="22.3" fill="#161616"/>
<text x="339.4" y="1267.0" font-size="18.4" text-anchor="middle" font-weight="bold" font-style="normal" fill="#fff" >SCLM</text>
<text x="176.0" y="757.0" font-size="20.0" text-anchor="start" font-weight="bold" font-style="normal" fill="#111" >P-dykes</text>
<line x1="202.7" y1="761.2" x2="210.4" y2="776.5" stroke="#111" stroke-width="1.4"/>
<polygon points="214.7,785.0 207.1,778.2 213.7,774.9" fill="#111"/>
<text x="141.8" y="878.5" font-size="19.0" text-anchor="start" font-weight="normal" font-style="italic" fill="#111" >’OIB’1</text>
<line x1="196.0" y1="871.8" x2="214.5" y2="871.8" stroke="#111" stroke-width="1.4"/>
<polygon points="224.0,871.8 214.5,875.5 214.5,868.1" fill="#111"/>
<text x="124.0" y="925.5" font-size="16.0" text-anchor="start" font-weight="normal" font-style="italic" fill="#111" >AR</text>
<line x1="150.6" y1="919.7" x2="167.9" y2="922.6" stroke="#111" stroke-width="1.4"/>
<polygon points="177.3,924.2 167.3,926.3 168.5,919.0" fill="#111"/>
<text x="118.7" y="1085.2" font-size="20.0" text-anchor="start" font-weight="bold" font-style="normal" fill="#111" >D-picrites</text>
<text x="361.5" y="1223.0" font-size="20.0" text-anchor="start" font-weight="bold" font-style="normal" fill="#111" stroke="#fff" stroke-width="5" paint-order="stroke" stroke-linejoin="round">E-picrites</text>
<text x="620.3" y="1101.6" font-size="20.0" text-anchor="start" font-weight="normal" font-style="italic" fill="#111" >Karoo</text>
<text x="600.5" y="1124.8" font-size="20.0" text-anchor="start" font-weight="normal" font-style="italic" fill="#111" >sandstone</text>
<text x="318.0" y="1126.7" font-size="18.0" text-anchor="start" font-weight="normal" font-style="italic" fill="#111" >L1</text>
<text x="318.0" y="1295.5" font-size="18.0" text-anchor="start" font-weight="normal" font-style="italic" fill="#111" >L2</text>
<text x="129.3" y="1191.3" font-size="19.5" text-anchor="start" font-weight="normal" font-style="italic" fill="#111" >’OIB’2</text>
<line x1="170.2" y1="1172.0" x2="182.0" y2="1162.5" stroke="#111" stroke-width="1.4"/>
<polygon points="189.4,1156.5 184.3,1165.3 179.7,1159.6" fill="#111"/>
<polygon points="302.1,1122.4 306.7,1134.4 321.3,1134.5 309.5,1142.0 314.0,1154.1 302.1,1146.6 290.2,1154.1 294.7,1142.0 282.9,1134.5 297.5,1134.4" fill="#b4b4b4" stroke="#1a1a1a" stroke-width="1.8" stroke-linejoin="miter"/>
<polygon points="595.3,1068.3 599.9,1080.3 614.5,1080.4 602.7,1087.9 607.2,1100.0 595.3,1092.5 583.4,1100.0 587.9,1087.9 576.1,1080.4 590.7,1080.3" fill="#b4b4b4" stroke="#1a1a1a" stroke-width="1.8" stroke-linejoin="miter"/>
<polygon points="294.2,1266.2 298.8,1278.2 313.4,1278.3 301.6,1285.8 306.1,1297.9 294.2,1290.4 282.3,1297.9 286.8,1285.8 275.0,1278.3 289.6,1278.2" fill="#b4b4b4" stroke="#1a1a1a" stroke-width="1.8" stroke-linejoin="miter"/>
<rect x="241.4" y="782.8" width="9.1" height="9.1" fill="#e23e12" stroke="#111" stroke-width="2.5"/>
<rect x="244.6" y="783.3" width="9.1" height="9.1" fill="#e23e12" stroke="#111" stroke-width="2.5"/>
<rect x="210.2" y="798.6" width="9.1" height="9.1" fill="#e23e12" stroke="#111" stroke-width="2.5"/>
<rect x="180.2" y="828.3" width="9.1" height="9.1" fill="#e23e12" stroke="#111" stroke-width="2.5"/>
<rect x="200.7" y="833.0" width="9.1" height="9.1" fill="#e23e12" stroke="#111" stroke-width="2.5"/>
<rect x="182.2" y="920.2" width="9.1" height="9.1" fill="#11a0d7" stroke="#111" stroke-width="2.5"/>
<rect x="199.7" y="922.2" width="9.1" height="9.1" fill="#11a0d7" stroke="#111" stroke-width="2.5"/>
<rect x="204.7" y="923.9" width="9.1" height="9.1" fill="#11a0d7" stroke="#111" stroke-width="2.5"/>
<rect x="210.2" y="924.7" width="9.1" height="9.1" fill="#11a0d7" stroke="#111" stroke-width="2.5"/>
<rect x="166.5" y="961.4" width="9.1" height="9.1" fill="#11a0d7" stroke="#111" stroke-width="2.5"/>
<rect x="192.7" y="970.1" width="9.1" height="9.1" fill="#11a0d7" stroke="#111" stroke-width="2.5"/>
<rect x="158.5" y="992.1" width="9.1" height="9.1" fill="#11a0d7" stroke="#111" stroke-width="2.5"/>
<rect x="179.0" y="1001.3" width="9.1" height="9.1" fill="#11a0d7" stroke="#111" stroke-width="2.5"/>
<rect x="155.3" y="1016.8" width="9.1" height="9.1" fill="#11a0d7" stroke="#111" stroke-width="2.5"/>
<rect x="159.0" y="1014.6" width="9.1" height="9.1" fill="#11a0d7" stroke="#111" stroke-width="2.5"/>
<rect x="168.5" y="1020.0" width="9.1" height="9.1" fill="#11a0d7" stroke="#111" stroke-width="2.5"/>
<rect x="179.0" y="1021.3" width="9.1" height="9.1" fill="#11a0d7" stroke="#111" stroke-width="2.5"/>
<rect x="171.5" y="1041.3" width="9.1" height="9.1" fill="#11a0d7" stroke="#111" stroke-width="2.5"/>
<rect x="341.6" y="1149.8" width="9.1" height="9.1" fill="#11a0d7" stroke="#111" stroke-width="2.5"/>
<rect x="280.9" y="1184.1" width="9.1" height="9.1" fill="#11a0d7" stroke="#111" stroke-width="2.5"/>
<rect x="306.8" y="1198.6" width="9.1" height="9.1" fill="#11a0d7" stroke="#111" stroke-width="2.5"/>
<rect x="295.7" y="1218.4" width="9.1" height="9.1" fill="#11a0d7" stroke="#111" stroke-width="2.5"/>
<rect x="272.5" y="1226.9" width="9.1" height="9.1" fill="#11a0d7" stroke="#111" stroke-width="2.5"/>
<rect x="281.7" y="1232.9" width="9.1" height="9.1" fill="#11a0d7" stroke="#111" stroke-width="2.5"/>
<rect x="297.0" y="1256.7" width="9.1" height="9.1" fill="#11a0d7" stroke="#111" stroke-width="2.5"/>
<rect x="240.6" y="852.2" width="9.2" height="9.2" fill="#fff" stroke="#11a0d7" stroke-width="2.2"/>
<rect x="234.4" y="873.4" width="9.2" height="9.2" fill="#fff" stroke="#11a0d7" stroke-width="2.2"/>
<rect x="233.1" y="887.2" width="9.2" height="9.2" fill="#fff" stroke="#11a0d7" stroke-width="2.2"/>
<rect x="231.4" y="897.1" width="9.2" height="9.2" fill="#fff" stroke="#11a0d7" stroke-width="2.2"/>
<rect x="188.0" y="1137.4" width="9.2" height="9.2" fill="#fff" stroke="#11a0d7" stroke-width="2.2"/>
<rect x="192.0" y="1141.3" width="9.2" height="9.2" fill="#fff" stroke="#11a0d7" stroke-width="2.2"/>
<rect x="204.6" y="1147.1" width="9.2" height="9.2" fill="#fff" stroke="#11a0d7" stroke-width="2.2"/>
<rect x="195.9" y="1155.0" width="9.2" height="9.2" fill="#fff" stroke="#11a0d7" stroke-width="2.2"/>
<path d="M93.3 749.5H108.3M93.3 934.7H108.3M93.3 1119.9H108.3M93.3 1305.1H108.3M95.8 712.5H108.3M95.8 786.5H108.3M95.8 823.6H108.3M95.8 860.6H108.3M95.8 897.7H108.3M95.8 971.7H108.3M95.8 1008.8H108.3M95.8 1045.8H108.3M95.8 1082.9H108.3M95.8 1156.9H108.3M95.8 1194.0H108.3M95.8 1231.0H108.3M95.8 1268.1H108.3M108.5 1304.8V1318.8M220.1 1304.8V1318.8M331.7 1304.8V1318.8M443.3 1304.8V1318.8M554.9 1304.8V1318.8M666.5 1304.8V1318.8M778.1 1304.8V1318.8" stroke="#111" stroke-width="2" fill="none"/>
<rect x="108.3" y="712.3" width="670.0" height="592.5" fill="none" stroke="#111" stroke-width="2"/>
<text transform="translate(108.5 1347.8) scale(0.955 1)" font-size="27.7" text-anchor="middle" fill="#111">0.702</text>
<text transform="translate(220.1 1347.8) scale(0.955 1)" font-size="27.7" text-anchor="middle" fill="#111">0.704</text>
<text transform="translate(331.7 1347.8) scale(0.955 1)" font-size="27.7" text-anchor="middle" fill="#111">0.706</text>
<text transform="translate(443.3 1347.8) scale(0.955 1)" font-size="27.7" text-anchor="middle" fill="#111">0.708</text>
<text transform="translate(554.9 1347.8) scale(0.955 1)" font-size="27.7" text-anchor="middle" fill="#111">0.710</text>
<text transform="translate(666.5 1347.8) scale(0.955 1)" font-size="27.7" text-anchor="middle" fill="#111">0.712</text>
<text transform="translate(778.1 1347.8) scale(0.955 1)" font-size="27.7" text-anchor="middle" fill="#111">0.714</text>
<text transform="translate(83.5 759.3) scale(0.955 1)" font-size="27.7" text-anchor="end" fill="#111">0.5</text>
<text transform="translate(83.5 944.5) scale(0.955 1)" font-size="27.7" text-anchor="end" fill="#111">0</text>
<text transform="translate(83.5 1129.7) scale(0.955 1)" font-size="27.7" text-anchor="end" fill="#111">-0.5</text>
<text transform="translate(87.3 1314.9) scale(0.955 1)" font-size="27.7" text-anchor="end" fill="#111">-1.0</text>
<text x="360.5" y="1391.3" font-size="34.1" fill="#111"><tspan font-size="19" dy="-14">87</tspan><tspan dy="14" dx="1.5">Sr/</tspan><tspan font-size="19" dy="-14" dx="2.5">86</tspan><tspan dy="14" dx="4">Sr (T)</tspan></text>
<text transform="translate(47.8 1016.0) rotate(-90)" font-size="32.5" text-anchor="middle" fill="#111">ΔNb</text>
<text x="4.0" y="750.0" font-size="37.0" text-anchor="start" font-weight="bold" font-style="normal" fill="#111" >c</text>
<rect x="962.5" y="994" width="446.0" height="310.8" fill="#ebebeb"/>
<path d="M962.5 994H1408.5V1304.8" stroke="#111" stroke-width="1.9" stroke-dasharray="5.4 4.05" fill="none"/>
<text x="1182.0" y="773.2" font-size="17.3" text-anchor="start" font-weight="bold" font-style="normal" fill="#999" >EM1</text>
<path d="M1218.5 789.1H1240.5M1229.5 778.1V800.1" stroke="#999" stroke-width="3.6" fill="none"/>
<text x="1420.8" y="853.6" font-size="17.3" text-anchor="start" font-weight="bold" font-style="normal" fill="#999" >PM</text>
<path d="M1401.8 861.0H1423.8M1412.8 850.0V872.0" stroke="#999" stroke-width="3.6" fill="none"/>
<g fill="#11a0d7">
<circle cx="1299.6" cy="886.4" r="4.7"/>
<circle cx="1299.5" cy="916.0" r="4.7"/>
<circle cx="1382.4" cy="908.7" r="4.7"/>
<circle cx="1456.0" cy="905.1" r="4.7"/>
<circle cx="1464.5" cy="920.0" r="4.7"/>
<circle cx="1469.6" cy="920.0" r="4.7"/>
<circle cx="1505.5" cy="926.9" r="4.7"/>
<circle cx="1252.7" cy="938.2" r="4.7"/>
<circle cx="1422.4" cy="941.8" r="4.7"/>
<circle cx="1436.0" cy="938.5" r="4.7"/>
<circle cx="1453.6" cy="945.5" r="4.7"/>
<circle cx="1464.5" cy="941.8" r="4.7"/>
<circle cx="1355.5" cy="949.6" r="4.7"/>
<circle cx="1360.0" cy="949.6" r="4.7"/>
<circle cx="1371.5" cy="949.6" r="4.7"/>
<circle cx="1248.2" cy="960.5" r="4.7"/>
<circle cx="1263.6" cy="960.5" r="4.7"/>
<circle cx="1266.4" cy="967.3" r="4.7"/>
<circle cx="1272.7" cy="968.2" r="4.7"/>
<circle cx="1480.5" cy="960.5" r="4.7"/>
<circle cx="1516.4" cy="960.5" r="4.7"/>
<circle cx="1489.1" cy="963.6" r="4.7"/>
<circle cx="1496.4" cy="964.0" r="4.7"/>
<circle cx="1491.8" cy="970.9" r="4.7"/>
<circle cx="1415.5" cy="967.3" r="4.7"/>
<circle cx="1412.7" cy="974.5" r="4.7"/>
<circle cx="1411.8" cy="980.0" r="4.7"/>
<circle cx="1406.4" cy="986.4" r="4.7"/>
<circle cx="1386.4" cy="970.9" r="4.7"/>
<circle cx="1395.5" cy="971.3" r="4.7"/>
<circle cx="1371.8" cy="975.5" r="4.7"/>
<circle cx="1368.2" cy="979.1" r="4.7"/>
<circle cx="1382.4" cy="979.1" r="4.7"/>
<circle cx="1435.5" cy="971.3" r="4.7"/>
<circle cx="1442.4" cy="971.3" r="4.7"/>
<circle cx="1453.6" cy="967.8" r="4.7"/>
<circle cx="1462.7" cy="967.8" r="4.7"/>
<circle cx="1471.8" cy="971.3" r="4.7"/>
<circle cx="1460.0" cy="978.7" r="4.7"/>
<circle cx="1440.0" cy="981.8" r="4.7"/>
<circle cx="1447.3" cy="986.4" r="4.7"/>
<circle cx="1446.4" cy="992.7" r="4.7"/>
<circle cx="1450.0" cy="996.4" r="4.7"/>
<circle cx="1458.2" cy="997.3" r="4.7"/>
<circle cx="1360.0" cy="986.4" r="4.7"/>
<circle cx="1380.0" cy="990.0" r="4.7"/>
<circle cx="1389.1" cy="993.6" r="4.7"/>
<circle cx="1273.6" cy="997.3" r="4.7"/>
<circle cx="1279.1" cy="997.3" r="4.7"/>
<circle cx="1330.9" cy="997.3" r="4.7"/>
<circle cx="1404.5" cy="1000.9" r="4.7"/>
<circle cx="1415.5" cy="997.3" r="4.7"/>
<circle cx="1411.8" cy="1000.9" r="4.7"/>
<circle cx="1361.8" cy="1004.5" r="4.7"/>
<circle cx="1375.5" cy="1008.2" r="4.7"/>
<circle cx="1382.4" cy="1008.2" r="4.7"/>
<circle cx="1397.8" cy="1008.2" r="4.7"/>
<circle cx="1470.9" cy="1004.9" r="4.7"/>
<circle cx="1433.6" cy="1011.8" r="4.7"/>
<circle cx="1440.9" cy="1008.2" r="4.7"/>
<circle cx="1450.9" cy="1011.8" r="4.7"/>
<circle cx="1459.1" cy="1012.4" r="4.7"/>
<circle cx="1259.1" cy="1012.4" r="4.7"/>
<circle cx="1273.1" cy="1019.6" r="4.7"/>
<circle cx="1357.3" cy="1011.8" r="4.7"/>
<circle cx="1371.8" cy="1019.1" r="4.7"/>
<circle cx="1375.5" cy="1015.5" r="4.7"/>
<circle cx="1349.1" cy="1023.6" r="4.7"/>
<circle cx="1377.8" cy="1026.9" r="4.7"/>
<circle cx="1440.0" cy="1019.6" r="4.7"/>
<circle cx="1464.5" cy="1023.3" r="4.7"/>
<circle cx="1471.8" cy="1026.9" r="4.7"/>
<circle cx="1498.2" cy="1019.6" r="4.7"/>
<circle cx="1326.4" cy="1033.6" r="4.7"/>
<circle cx="1343.6" cy="1033.6" r="4.7"/>
<circle cx="1410.9" cy="1033.6" r="4.7"/>
<circle cx="1295.5" cy="1034.5" r="4.7"/>
<circle cx="1368.2" cy="1034.5" r="4.7"/>
<circle cx="1295.1" cy="1038.3" r="4.7"/>
<circle cx="1333.1" cy="1041.9" r="4.7"/>
<circle cx="1350.9" cy="1037.7" r="4.7"/>
<circle cx="1359.5" cy="1041.9" r="4.7"/>
<circle cx="1369.1" cy="1038.3" r="4.7"/>
<circle cx="1397.6" cy="1041.9" r="4.7"/>
<circle cx="1433.6" cy="1045.5" r="4.7"/>
<circle cx="1444.5" cy="1045.5" r="4.7"/>
<circle cx="1298.7" cy="1048.6" r="4.7"/>
<circle cx="1312.7" cy="1045.9" r="4.7"/>
<circle cx="1315.5" cy="1049.5" r="4.7"/>
<circle cx="1348.2" cy="1048.6" r="4.7"/>
<circle cx="1350.9" cy="1056.8" r="4.7"/>
<circle cx="1386.4" cy="1053.2" r="4.7"/>
<circle cx="1290.5" cy="1060.5" r="4.7"/>
<circle cx="1252.7" cy="1064.1" r="4.7"/>
<circle cx="1265.8" cy="1064.1" r="4.7"/>
<circle cx="1235.1" cy="1075.0" r="4.7"/>
<circle cx="1444.5" cy="1071.7" r="4.7"/>
<circle cx="1480.5" cy="1075.0" r="4.7"/>
<circle cx="1263.6" cy="1082.8" r="4.7"/>
<circle cx="1272.7" cy="1083.2" r="4.7"/>
<circle cx="1306.4" cy="1082.8" r="4.7"/>
<circle cx="1382.4" cy="1086.5" r="4.7"/>
<circle cx="1231.8" cy="1094.1" r="4.7"/>
<circle cx="1257.3" cy="1101.0" r="4.7"/>
<circle cx="1401.8" cy="1093.2" r="4.7"/>
<circle cx="1404.2" cy="1101.4" r="4.7"/>
<circle cx="1414.5" cy="1105.0" r="4.7"/>
<circle cx="1418.2" cy="1105.0" r="4.7"/>
<circle cx="1442.4" cy="1112.3" r="4.7"/>
<circle cx="1462.4" cy="1115.9" r="4.7"/>
<circle cx="1255.1" cy="1119.5" r="4.7"/>
<circle cx="1279.5" cy="1123.5" r="4.7"/>
<circle cx="1377.8" cy="1123.5" r="4.7"/>
<circle cx="1317.3" cy="1134.1" r="4.7"/>
<circle cx="1312.7" cy="1138.3" r="4.7"/>
<circle cx="1272.7" cy="1149.5" r="4.7"/>
<circle cx="1306.4" cy="1171.4" r="4.7"/>
<circle cx="1297.3" cy="1197.4" r="4.7"/>
<circle cx="1205.5" cy="949.5" r="4.7"/>
<circle cx="1018.2" cy="960.5" r="4.7"/>
<circle cx="980.4" cy="975.1" r="4.7"/>
<circle cx="1107.3" cy="971.5" r="4.7"/>
<circle cx="1160.9" cy="979.1" r="4.7"/>
<circle cx="1098.5" cy="990.0" r="4.7"/>
<circle cx="1163.3" cy="994.0" r="4.7"/>
<circle cx="1145.5" cy="1001.3" r="4.7"/>
<circle cx="1060.0" cy="1004.9" r="4.7"/>
<circle cx="1071.8" cy="1000.9" r="4.7"/>
<circle cx="1067.3" cy="1009.1" r="4.7"/>
<circle cx="1072.7" cy="1009.1" r="4.7"/>
<circle cx="1194.5" cy="1015.8" r="4.7"/>
<circle cx="1226.0" cy="1026.9" r="4.7"/>
<circle cx="1169.1" cy="1038.2" r="4.7"/>
<circle cx="1174.5" cy="1038.5" r="4.7"/>
<circle cx="1056.4" cy="1071.5" r="4.7"/>
<circle cx="1170.0" cy="1112.2" r="4.7"/>
<circle cx="1223.6" cy="1116.0" r="4.7"/>
<circle cx="1136.4" cy="1123.3" r="4.7"/>
<circle cx="1219.3" cy="1164.1" r="4.7"/>
</g>
<g fill="#e23e12">
<circle cx="1380.0" cy="790.0" r="4.7"/>
<circle cx="1390.9" cy="805.1" r="4.7"/>
<circle cx="1339.6" cy="842.2" r="4.7"/>
<circle cx="1243.6" cy="867.8" r="4.7"/>
<circle cx="1319.6" cy="868.2" r="4.7"/>
<circle cx="1353.1" cy="856.9" r="4.7"/>
<circle cx="1366.4" cy="853.3" r="4.7"/>
<circle cx="1377.3" cy="853.6" r="4.7"/>
<circle cx="1384.5" cy="849.1" r="4.7"/>
<circle cx="1390.0" cy="852.7" r="4.7"/>
<circle cx="1389.1" cy="860.0" r="4.7"/>
<circle cx="1394.5" cy="860.0" r="4.7"/>
<circle cx="1400.0" cy="860.5" r="4.7"/>
<circle cx="1375.5" cy="864.2" r="4.7"/>
<circle cx="1357.3" cy="868.2" r="4.7"/>
<circle cx="1384.5" cy="875.1" r="4.7"/>
<circle cx="1355.5" cy="879.1" r="4.7"/>
<circle cx="1390.9" cy="883.1" r="4.7"/>
<circle cx="1337.3" cy="894.2" r="4.7"/>
<circle cx="1355.5" cy="894.2" r="4.7"/>
<circle cx="1364.5" cy="890.0" r="4.7"/>
<circle cx="1373.3" cy="894.2" r="4.7"/>
<circle cx="1363.6" cy="900.0" r="4.7"/>
<circle cx="1360.0" cy="905.1" r="4.7"/>
<circle cx="1370.9" cy="908.7" r="4.7"/>
<circle cx="1393.3" cy="908.7" r="4.7"/>
<circle cx="1252.7" cy="908.7" r="4.7"/>
<circle cx="1286.0" cy="912.4" r="4.7"/>
<circle cx="1313.1" cy="916.0" r="4.7"/>
<circle cx="1335.5" cy="916.0" r="4.7"/>
<circle cx="1360.0" cy="916.0" r="4.7"/>
<circle cx="1348.2" cy="919.1" r="4.7"/>
<circle cx="1344.5" cy="925.5" r="4.7"/>
<circle cx="1366.7" cy="923.6" r="4.7"/>
<circle cx="1377.6" cy="930.9" r="4.7"/>
<circle cx="1324.5" cy="930.9" r="4.7"/>
<circle cx="1329.1" cy="936.0" r="4.7"/>
<circle cx="1352.7" cy="933.6" r="4.7"/>
<circle cx="1350.0" cy="938.2" r="4.7"/>
<circle cx="1331.8" cy="941.5" r="4.7"/>
<circle cx="1366.4" cy="941.5" r="4.7"/>
<circle cx="1273.1" cy="934.9" r="4.7"/>
<circle cx="1395.5" cy="953.1" r="4.7"/>
<circle cx="1317.6" cy="975.5" r="4.7"/>
<circle cx="1326.4" cy="1012.4" r="4.7"/>
<circle cx="1353.3" cy="1020.0" r="4.7"/>
<circle cx="1152.2" cy="923.6" r="4.7"/>
<circle cx="1085.1" cy="964.2" r="4.7"/>
</g>
<path d="M991.6 737.5V811M969 774.2H1014" stroke="#111" stroke-width="1.6" fill="none"/>
<text x="1022.8" y="784.5" font-size="23.5" text-anchor="start" font-weight="normal" font-style="italic" fill="#111" >TA error</text>
<polygon points="1145.1,837.8 1157.1,851.6 1127.6,869.8 1135.1,877.8 1093.2,879.3 1111.9,847.8 1116.4,855.3" fill="#fff" stroke="#111" stroke-width="1.9"/>
<text x="1120.1" y="909.7" font-size="20.5" text-anchor="end" font-weight="normal" font-style="normal" fill="#111" >Lithospheric</text>
<text x="1120.1" y="933.0" font-size="20.5" text-anchor="end" font-weight="normal" font-style="normal" fill="#111" >contamination</text>
<text transform="translate(1403 1279.7) rotate(-90)" font-size="20" font-style="italic" fill="#111">Kaapvaal crust</text>
<ellipse cx="1455.8" cy="810.5" rx="51.5" ry="26.0" transform="rotate(40.0 1455.8 810.5)" fill="none" stroke="#111" stroke-width="1.7" stroke-dasharray="13 4.8"/>
<ellipse cx="1580.0" cy="1007.0" rx="27.0" ry="56.0" transform="rotate(18.0 1580.0 1007.0)" fill="none" stroke="#111" stroke-width="1.7" stroke-dasharray="13 4.8"/>
<ellipse cx="1195.5" cy="1207.5" rx="83.0" ry="36.0" transform="rotate(51.0 1195.5 1207.5)" fill="none" stroke="#111" stroke-width="1.7" stroke-dasharray="13 4.8"/>
<rect x="1492.2" y="769.4" width="50.0" height="30.7" fill="#161616"/>
<text x="1496.8" y="790.9" font-size="18.6" font-weight="bold" fill="#fff">PM<tspan font-size="11" dy="5" dx="0.5">NC</tspan></text>
<rect x="1592.6" y="945.0" width="36.5" height="23.0" fill="#161616"/>
<text x="1610.8" y="964.4" font-size="18.6" text-anchor="middle" font-weight="bold" font-style="normal" fill="#fff" >DM</text>
<rect x="1101.5" y="1251.5" width="60.5" height="22.3" fill="#161616"/>
<text x="1131.8" y="1269.5" font-size="18.4" text-anchor="middle" font-weight="bold" font-style="normal" fill="#fff" >SCLM</text>
<text x="1397.8" y="758.7" font-size="20.0" text-anchor="start" font-weight="bold" font-style="normal" fill="#111" >P-dykes</text>
<text x="1526.4" y="867.3" font-size="19.0" text-anchor="start" font-weight="normal" font-style="italic" fill="#111" >’OIB’1</text>
<line x1="1523.9" y1="869.0" x2="1508.7" y2="876.7" stroke="#111" stroke-width="1.4"/>
<polygon points="1500.2,881.0 1507.0,873.4 1510.3,880.0" fill="#111"/>
<text x="1480.2" y="946.0" font-size="16.0" text-anchor="start" font-weight="normal" font-style="italic" fill="#111" >AR</text>
<line x1="1479.7" y1="936.0" x2="1463.1" y2="931.2" stroke="#111" stroke-width="1.4"/>
<polygon points="1454.0,928.5 1464.2,927.6 1462.1,934.7" fill="#111"/>
<text x="1530.9" y="1084.5" font-size="20.0" text-anchor="start" font-weight="bold" font-style="normal" fill="#111" >D-picrites</text>
<text x="1051.2" y="1209.3" font-size="20.0" text-anchor="start" font-weight="bold" font-style="normal" fill="#111" stroke="#fff" stroke-width="5" paint-order="stroke" stroke-linejoin="round">E-picrites</text>
<text x="1320.6" y="1095.6" font-size="20.2" text-anchor="start" font-weight="normal" font-style="italic" fill="#111" >Karoo</text>
<text x="1300.8" y="1119.5" font-size="20.2" text-anchor="start" font-weight="normal" font-style="italic" fill="#111" >sandstone</text>
<text x="970.0" y="1051.5" font-size="20.0" text-anchor="start" font-weight="normal" font-style="italic" fill="#111" >Archaean</text>
<text x="991.8" y="1075.2" font-size="20.0" text-anchor="start" font-weight="normal" font-style="italic" fill="#111" >crust</text>
<text x="1182.3" y="1145.0" font-size="18.0" text-anchor="start" font-weight="normal" font-style="italic" fill="#111" >L1</text>
<text x="1109.8" y="1294.7" font-size="18.0" text-anchor="start" font-weight="normal" font-style="italic" fill="#111" >L2</text>
<text x="1539.0" y="1195.4" font-size="19.5" text-anchor="start" font-weight="normal" font-style="italic" fill="#111" >’OIB’2</text>
<line x1="1570.0" y1="1172.8" x2="1582.1" y2="1163.0" stroke="#111" stroke-width="1.4"/>
<polygon points="1589.5,1157.0 1584.4,1165.9 1579.8,1160.1" fill="#111"/>
<polygon points="1223.2,1125.8 1227.8,1137.8 1242.4,1137.9 1230.6,1145.4 1235.1,1157.5 1223.2,1150.0 1211.3,1157.5 1215.8,1145.4 1204.0,1137.9 1218.6,1137.8" fill="#b4b4b4" stroke="#1a1a1a" stroke-width="1.8" stroke-linejoin="miter"/>
<polygon points="1290.0,1068.3 1294.6,1080.3 1309.2,1080.4 1297.4,1087.9 1301.9,1100.0 1290.0,1092.5 1278.1,1100.0 1282.6,1087.9 1270.8,1080.4 1285.4,1080.3" fill="#b4b4b4" stroke="#1a1a1a" stroke-width="1.8" stroke-linejoin="miter"/>
<polygon points="1153.3,1269.3 1157.9,1281.3 1172.5,1281.4 1160.7,1288.9 1165.2,1301.0 1153.3,1293.5 1141.4,1301.0 1145.9,1288.9 1134.1,1281.4 1148.7,1281.3" fill="#b4b4b4" stroke="#1a1a1a" stroke-width="1.8" stroke-linejoin="miter"/>
<polygon points="992.3,992.9 996.9,1004.9 1011.5,1005.0 999.7,1012.5 1004.2,1024.6 992.3,1017.1 980.4,1024.6 984.9,1012.5 973.1,1005.0 987.7,1004.9" fill="#b4b4b4" stroke="#1a1a1a" stroke-width="1.8" stroke-linejoin="miter"/>
<rect x="1424.5" y="782.8" width="9.1" height="9.1" fill="#e23e12" stroke="#111" stroke-width="2.5"/>
<rect x="1427.7" y="782.3" width="9.1" height="9.1" fill="#e23e12" stroke="#111" stroke-width="2.5"/>
<rect x="1467.4" y="801.1" width="9.1" height="9.1" fill="#e23e12" stroke="#111" stroke-width="2.5"/>
<rect x="1465.2" y="830.3" width="9.1" height="9.1" fill="#e23e12" stroke="#111" stroke-width="2.5"/>
<rect x="1472.4" y="834.0" width="9.1" height="9.1" fill="#e23e12" stroke="#111" stroke-width="2.5"/>
<rect x="1440.2" y="918.4" width="9.1" height="9.1" fill="#11a0d7" stroke="#111" stroke-width="2.5"/>
<rect x="1434.4" y="922.2" width="9.1" height="9.1" fill="#11a0d7" stroke="#111" stroke-width="2.5"/>
<rect x="1441.9" y="921.4" width="9.1" height="9.1" fill="#11a0d7" stroke="#111" stroke-width="2.5"/>
<rect x="1438.2" y="925.7" width="9.1" height="9.1" fill="#11a0d7" stroke="#111" stroke-width="2.5"/>
<rect x="1590.0" y="963.9" width="9.1" height="9.1" fill="#11a0d7" stroke="#111" stroke-width="2.5"/>
<rect x="1590.0" y="971.4" width="9.1" height="9.1" fill="#11a0d7" stroke="#111" stroke-width="2.5"/>
<rect x="1565.5" y="993.1" width="9.1" height="9.1" fill="#11a0d7" stroke="#111" stroke-width="2.5"/>
<rect x="1574.3" y="1000.1" width="9.1" height="9.1" fill="#11a0d7" stroke="#111" stroke-width="2.5"/>
<rect x="1584.3" y="1015.1" width="9.1" height="9.1" fill="#11a0d7" stroke="#111" stroke-width="2.5"/>
<rect x="1576.8" y="1016.3" width="9.1" height="9.1" fill="#11a0d7" stroke="#111" stroke-width="2.5"/>
<rect x="1556.3" y="1022.5" width="9.1" height="9.1" fill="#11a0d7" stroke="#111" stroke-width="2.5"/>
<rect x="1565.0" y="1041.3" width="9.1" height="9.1" fill="#11a0d7" stroke="#111" stroke-width="2.5"/>
<rect x="1160.9" y="1153.0" width="9.1" height="9.1" fill="#11a0d7" stroke="#111" stroke-width="2.5"/>
<rect x="1197.6" y="1181.7" width="9.1" height="9.1" fill="#11a0d7" stroke="#111" stroke-width="2.5"/>
<rect x="1158.8" y="1196.8" width="9.1" height="9.1" fill="#11a0d7" stroke="#111" stroke-width="2.5"/>
<rect x="1213.7" y="1217.9" width="9.1" height="9.1" fill="#11a0d7" stroke="#111" stroke-width="2.5"/>
<rect x="1194.9" y="1228.5" width="9.1" height="9.1" fill="#11a0d7" stroke="#111" stroke-width="2.5"/>
<rect x="1200.2" y="1233.5" width="9.1" height="9.1" fill="#11a0d7" stroke="#111" stroke-width="2.5"/>
<rect x="1220.5" y="1255.9" width="9.1" height="9.1" fill="#11a0d7" stroke="#111" stroke-width="2.5"/>
<rect x="1441.4" y="853.2" width="9.2" height="9.2" fill="#fff" stroke="#11a0d7" stroke-width="2.2"/>
<rect x="1485.6" y="873.2" width="9.2" height="9.2" fill="#fff" stroke="#11a0d7" stroke-width="2.2"/>
<rect x="1474.8" y="886.9" width="9.2" height="9.2" fill="#fff" stroke="#11a0d7" stroke-width="2.2"/>
<rect x="1482.3" y="897.6" width="9.2" height="9.2" fill="#fff" stroke="#11a0d7" stroke-width="2.2"/>
<rect x="1602.0" y="1134.7" width="9.2" height="9.2" fill="#fff" stroke="#11a0d7" stroke-width="2.2"/>
<rect x="1607.5" y="1139.2" width="9.2" height="9.2" fill="#fff" stroke="#11a0d7" stroke-width="2.2"/>
<rect x="1595.4" y="1144.5" width="9.2" height="9.2" fill="#fff" stroke="#11a0d7" stroke-width="2.2"/>
<rect x="1597.5" y="1152.9" width="9.2" height="9.2" fill="#fff" stroke="#11a0d7" stroke-width="2.2"/>
<path d="M947.5 749.5H962.5M947.5 934.7H962.5M947.5 1119.9H962.5M947.5 1305.1H962.5M950.0 712.5H962.5M950.0 786.5H962.5M950.0 823.6H962.5M950.0 860.6H962.5M950.0 897.7H962.5M950.0 971.7H962.5M950.0 1008.8H962.5M950.0 1045.8H962.5M950.0 1082.9H962.5M950.0 1156.9H962.5M950.0 1194.0H962.5M950.0 1231.0H962.5M950.0 1268.1H962.5M962.0 1304.8V1318.8M1073.7 1304.8V1318.8M1185.4 1304.8V1318.8M1297.1 1304.8V1318.8M1408.8 1304.8V1318.8M1520.5 1304.8V1318.8M1632.2 1304.8V1318.8" stroke="#111" stroke-width="2" fill="none"/>
<rect x="962.5" y="712.3" width="670.0" height="592.5" fill="none" stroke="#111" stroke-width="2"/>
<text transform="translate(958.5 1347.8) scale(0.955 1)" font-size="27.7" text-anchor="middle" fill="#111">-20</text>
<text transform="translate(1067.4 1347.8) scale(0.955 1)" font-size="27.7" text-anchor="middle" fill="#111">-15</text>
<text transform="translate(1179.1 1347.8) scale(0.955 1)" font-size="27.7" text-anchor="middle" fill="#111">-10</text>
<text transform="translate(1293.1 1347.8) scale(0.955 1)" font-size="27.7" text-anchor="middle" fill="#111">-5</text>
<text transform="translate(1408.8 1347.8) scale(0.955 1)" font-size="27.7" text-anchor="middle" fill="#111">0</text>
<text transform="translate(1520.5 1347.8) scale(0.955 1)" font-size="27.7" text-anchor="middle" fill="#111">5</text>
<text transform="translate(1632.2 1347.8) scale(0.955 1)" font-size="27.7" text-anchor="middle" fill="#111">10</text>
<text transform="translate(937.5 759.3) scale(0.955 1)" font-size="27.7" text-anchor="end" fill="#111">0.5</text>
<text transform="translate(937.5 944.5) scale(0.955 1)" font-size="27.7" text-anchor="end" fill="#111">0</text>
<text transform="translate(937.5 1129.7) scale(0.955 1)" font-size="27.7" text-anchor="end" fill="#111">-0.5</text>
<text transform="translate(941.3 1314.9) scale(0.955 1)" font-size="27.7" text-anchor="end" fill="#111">-1.0</text>
<text x="1239" y="1391.3" font-size="34.7" fill="#111"><tspan font-family="Liberation Serif, serif" font-size="38">ε</tspan>Nd (T)</text>
<text transform="translate(903.0 1015.7) rotate(-90)" font-size="32.5" text-anchor="middle" fill="#111">ΔNb</text>
<text x="855.2" y="746.2" font-size="37.0" text-anchor="start" font-weight="bold" font-style="normal" fill="#111" >d</text>
</svg>
</body></html>
